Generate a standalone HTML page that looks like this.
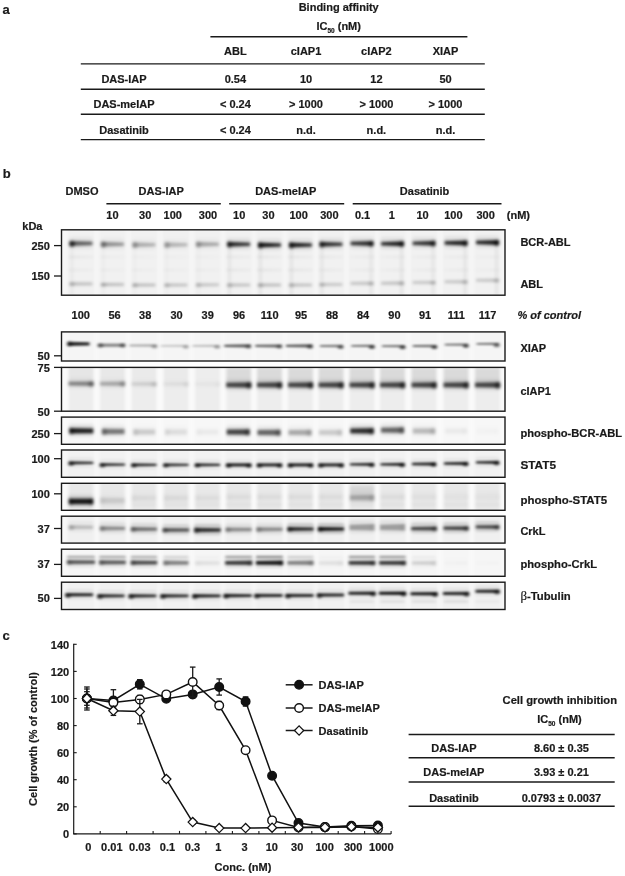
<!DOCTYPE html>
<html lang="en"><head><meta charset="utf-8"><title>Figure</title>
<style>
html,body{margin:0;padding:0;background:#fff;}
body{width:625px;height:876px;overflow:hidden;}
svg{display:block;}
svg text{font-family:"Liberation Sans", Arial, Helvetica, sans-serif;font-weight:bold;fill:#1a1a1a;stroke:#1a1a1a;stroke-width:0.2px;}
</style></head><body>
<svg width="625" height="876" viewBox="0 0 625 876">
<rect width="625" height="876" fill="#fff"/>
<text x="2.6" y="13.5" font-size="13">a</text>
<text x="338.7" y="11.0" font-size="11" text-anchor="middle">Binding affinity</text>
<text x="338.7" y="29.5" font-size="11" text-anchor="middle">IC<tspan font-size="6.5" dy="3.3">50</tspan><tspan dy="-3.3"> (nM)</tspan></text>
<line x1="210.4" y1="36.8" x2="467.4" y2="36.8" stroke="#1a1a1a" stroke-width="1.4"/>
<line x1="80.8" y1="63.9" x2="484.8" y2="63.9" stroke="#1a1a1a" stroke-width="1.4"/>
<line x1="80.8" y1="89.2" x2="484.8" y2="89.2" stroke="#1a1a1a" stroke-width="1.4"/>
<line x1="80.8" y1="114.2" x2="484.8" y2="114.2" stroke="#1a1a1a" stroke-width="1.4"/>
<line x1="80.8" y1="139.6" x2="484.8" y2="139.6" stroke="#1a1a1a" stroke-width="1.4"/>
<text x="235.4" y="55.1" font-size="11" text-anchor="middle">ABL</text>
<text x="306.0" y="55.1" font-size="11" text-anchor="middle">cIAP1</text>
<text x="376.4" y="55.1" font-size="11" text-anchor="middle">cIAP2</text>
<text x="445.5" y="55.1" font-size="11" text-anchor="middle">XIAP</text>
<text x="124.0" y="83.3" font-size="11" text-anchor="middle">DAS-IAP</text>
<text x="235.4" y="83.3" font-size="11" text-anchor="middle">0.54</text>
<text x="306.0" y="83.3" font-size="11" text-anchor="middle">10</text>
<text x="376.4" y="83.3" font-size="11" text-anchor="middle">12</text>
<text x="445.5" y="83.3" font-size="11" text-anchor="middle">50</text>
<text x="124.0" y="108.3" font-size="11" text-anchor="middle">DAS-meIAP</text>
<text x="235.4" y="108.3" font-size="11" text-anchor="middle">&lt; 0.24</text>
<text x="306.0" y="108.3" font-size="11" text-anchor="middle">&gt; 1000</text>
<text x="376.4" y="108.3" font-size="11" text-anchor="middle">&gt; 1000</text>
<text x="445.5" y="108.3" font-size="11" text-anchor="middle">&gt; 1000</text>
<text x="124.0" y="133.5" font-size="11" text-anchor="middle">Dasatinib</text>
<text x="235.4" y="133.5" font-size="11" text-anchor="middle">&lt; 0.24</text>
<text x="306.0" y="133.5" font-size="11" text-anchor="middle">n.d.</text>
<text x="376.4" y="133.5" font-size="11" text-anchor="middle">n.d.</text>
<text x="445.5" y="133.5" font-size="11" text-anchor="middle">n.d.</text>
<text x="2.8" y="177.7" font-size="13">b</text>
<text x="82.0" y="195.2" font-size="11" text-anchor="middle">DMSO</text>
<text x="161.2" y="195.2" font-size="11" text-anchor="middle">DAS-IAP</text>
<text x="285.7" y="195.2" font-size="11" text-anchor="middle">DAS-meIAP</text>
<text x="424.6" y="195.2" font-size="11" text-anchor="middle">Dasatinib</text>
<line x1="106.4" y1="203.8" x2="220.8" y2="203.8" stroke="#1a1a1a" stroke-width="1.4"/>
<line x1="229.2" y1="203.8" x2="344.2" y2="203.8" stroke="#1a1a1a" stroke-width="1.4"/>
<line x1="352.7" y1="203.8" x2="501.5" y2="203.8" stroke="#1a1a1a" stroke-width="1.4"/>
<text x="112.4" y="219.2" font-size="11" text-anchor="middle">10</text>
<text x="145.2" y="219.2" font-size="11" text-anchor="middle">30</text>
<text x="172.8" y="219.2" font-size="11" text-anchor="middle">100</text>
<text x="208.0" y="219.2" font-size="11" text-anchor="middle">300</text>
<text x="239.2" y="219.2" font-size="11" text-anchor="middle">10</text>
<text x="268.4" y="219.2" font-size="11" text-anchor="middle">30</text>
<text x="298.6" y="219.2" font-size="11" text-anchor="middle">100</text>
<text x="329.4" y="219.2" font-size="11" text-anchor="middle">300</text>
<text x="362.6" y="219.2" font-size="11" text-anchor="middle">0.1</text>
<text x="391.9" y="219.2" font-size="11" text-anchor="middle">1</text>
<text x="422.6" y="219.2" font-size="11" text-anchor="middle">10</text>
<text x="453.4" y="219.2" font-size="11" text-anchor="middle">100</text>
<text x="485.6" y="219.2" font-size="11" text-anchor="middle">300</text>
<text x="518.4" y="219.2" font-size="11" text-anchor="middle">(nM)</text>
<text x="32.4" y="229.6" font-size="11" text-anchor="middle">kDa</text>
<text x="80.8" y="319.3" font-size="11" text-anchor="middle">100</text>
<text x="114.5" y="319.3" font-size="11" text-anchor="middle">56</text>
<text x="145.2" y="319.3" font-size="11" text-anchor="middle">38</text>
<text x="176.5" y="319.3" font-size="11" text-anchor="middle">30</text>
<text x="207.7" y="319.3" font-size="11" text-anchor="middle">39</text>
<text x="239.0" y="319.3" font-size="11" text-anchor="middle">96</text>
<text x="269.7" y="319.3" font-size="11" text-anchor="middle">110</text>
<text x="301.0" y="319.3" font-size="11" text-anchor="middle">95</text>
<text x="332.0" y="319.3" font-size="11" text-anchor="middle">88</text>
<text x="363.1" y="319.3" font-size="11" text-anchor="middle">84</text>
<text x="394.4" y="319.3" font-size="11" text-anchor="middle">90</text>
<text x="425.1" y="319.3" font-size="11" text-anchor="middle">91</text>
<text x="456.4" y="319.3" font-size="11" text-anchor="middle">111</text>
<text x="487.6" y="319.3" font-size="11" text-anchor="middle">117</text>
<text x="517.4" y="319.1" font-size="11" text-anchor="start" font-style="italic">% of control</text>
<defs>
<filter id="bl" x="-20%" y="-200%" width="140%" height="500%"><feGaussianBlur stdDeviation="1.7 1.4"/></filter>
<filter id="bls" x="-20%" y="-200%" width="140%" height="500%"><feGaussianBlur stdDeviation="1.5 1.0"/></filter>
<filter id="bl2" x="-20%" y="-20%" width="140%" height="140%"><feGaussianBlur stdDeviation="1.6 1.5"/></filter>
<clipPath id="c0"><rect x="61.5" y="229.8" width="443.5" height="65.4"/></clipPath>
<clipPath id="c1"><rect x="61.5" y="331.9" width="443.5" height="29.1"/></clipPath>
<clipPath id="c2"><rect x="61.5" y="367.4" width="443.5" height="43.8"/></clipPath>
<clipPath id="c3"><rect x="61.5" y="417.1" width="443.5" height="27.2"/></clipPath>
<clipPath id="c4"><rect x="61.5" y="450.0" width="443.5" height="27.3"/></clipPath>
<clipPath id="c5"><rect x="61.5" y="483.3" width="443.5" height="27.0"/></clipPath>
<clipPath id="c6"><rect x="61.5" y="516.2" width="443.5" height="26.9"/></clipPath>
<clipPath id="c7"><rect x="61.5" y="549.2" width="443.5" height="27.1"/></clipPath>
<clipPath id="c8"><rect x="61.5" y="582.2" width="443.5" height="27.3"/></clipPath>
</defs>
<g clip-path="url(#c0)">
<rect x="61.5" y="229.8" width="443.5" height="65.4" fill="#f6f6f6"/>
<g filter="url(#bl2)">
<rect x="67.5" y="225.8" width="27" height="73.4" fill="#000" fill-opacity="0.02"/>
<rect x="99.0" y="225.8" width="27" height="73.4" fill="#000" fill-opacity="0.02"/>
<rect x="130.5" y="225.8" width="27" height="73.4" fill="#000" fill-opacity="0.02"/>
<rect x="162.5" y="225.8" width="27" height="73.4" fill="#000" fill-opacity="0.02"/>
<rect x="194.0" y="225.8" width="27" height="73.4" fill="#000" fill-opacity="0.02"/>
<rect x="225.2" y="225.8" width="27" height="73.4" fill="#000" fill-opacity="0.02"/>
<rect x="256.0" y="225.8" width="27" height="73.4" fill="#000" fill-opacity="0.02"/>
<rect x="287.0" y="225.8" width="27" height="73.4" fill="#000" fill-opacity="0.02"/>
<rect x="317.5" y="225.8" width="27" height="73.4" fill="#000" fill-opacity="0.02"/>
<rect x="348.5" y="225.8" width="27" height="73.4" fill="#000" fill-opacity="0.02"/>
<rect x="379.0" y="225.8" width="27" height="73.4" fill="#000" fill-opacity="0.02"/>
<rect x="410.5" y="225.8" width="27" height="73.4" fill="#000" fill-opacity="0.02"/>
<rect x="442.5" y="225.8" width="27" height="73.4" fill="#000" fill-opacity="0.02"/>
<rect x="474.0" y="225.8" width="27" height="73.4" fill="#000" fill-opacity="0.02"/>
</g>
<g filter="url(#bl)">
<rect x="69.1" y="236.9" width="23.8" height="12.0" rx="3" fill="#000" fill-opacity="0.050"/>
<path d="M69.6 240.90L92.4 241.85L92.4 244.95L69.6 245.90Z" fill="#000" fill-opacity="0.620"/>
<ellipse cx="72.0" cy="243.8" rx="3.0" ry="3.1" fill="#000" fill-opacity="0.620"/>
<rect x="70.8" y="243.4" width="2.4" height="51.8" fill="#000" fill-opacity="0.043"/>
<rect x="100.6" y="237.7" width="23.8" height="12.0" rx="3" fill="#000" fill-opacity="0.032"/>
<path d="M101.1 241.70L123.9 242.65L123.9 245.75L101.1 246.70Z" fill="#000" fill-opacity="0.400"/>
<ellipse cx="103.5" cy="244.6" rx="3.0" ry="3.1" fill="#000" fill-opacity="0.280"/>
<rect x="102.3" y="244.2" width="2.4" height="51.0" fill="#000" fill-opacity="0.028"/>
<rect x="132.1" y="238.3" width="23.8" height="12.0" rx="3" fill="#000" fill-opacity="0.022"/>
<path d="M132.6 242.30L155.4 243.25L155.4 246.35L132.6 247.30Z" fill="#000" fill-opacity="0.280"/>
<ellipse cx="135.0" cy="245.2" rx="3.0" ry="3.1" fill="#000" fill-opacity="0.196"/>
<rect x="133.8" y="244.8" width="2.4" height="50.4" fill="#000" fill-opacity="0.020"/>
<rect x="164.1" y="238.3" width="23.8" height="12.0" rx="3" fill="#000" fill-opacity="0.020"/>
<path d="M164.6 242.30L187.4 243.25L187.4 246.35L164.6 247.30Z" fill="#000" fill-opacity="0.250"/>
<ellipse cx="167.0" cy="245.2" rx="3.0" ry="3.1" fill="#000" fill-opacity="0.175"/>
<rect x="165.8" y="244.8" width="2.4" height="50.4" fill="#000" fill-opacity="0.018"/>
<rect x="195.6" y="237.7" width="23.8" height="12.0" rx="3" fill="#000" fill-opacity="0.025"/>
<path d="M196.1 241.70L218.9 242.65L218.9 245.75L196.1 246.70Z" fill="#000" fill-opacity="0.310"/>
<ellipse cx="198.5" cy="244.6" rx="3.0" ry="3.1" fill="#000" fill-opacity="0.155"/>
<rect x="197.3" y="244.2" width="2.4" height="51.0" fill="#000" fill-opacity="0.022"/>
<rect x="226.8" y="237.7" width="23.8" height="12.0" rx="3" fill="#000" fill-opacity="0.066"/>
<path d="M227.3 241.70L250.1 242.65L250.1 245.75L227.3 246.70Z" fill="#000" fill-opacity="0.820"/>
<ellipse cx="229.7" cy="244.6" rx="3.0" ry="3.1" fill="#000" fill-opacity="0.410"/>
<rect x="228.5" y="244.2" width="2.4" height="51.0" fill="#000" fill-opacity="0.057"/>
<rect x="257.6" y="238.5" width="23.8" height="12.0" rx="3" fill="#000" fill-opacity="0.072"/>
<path d="M258.1 242.50L280.9 243.45L280.9 246.55L258.1 247.50Z" fill="#000" fill-opacity="0.900"/>
<ellipse cx="260.5" cy="245.4" rx="3.0" ry="3.1" fill="#000" fill-opacity="0.450"/>
<rect x="259.3" y="245.0" width="2.4" height="50.2" fill="#000" fill-opacity="0.063"/>
<rect x="288.6" y="238.5" width="23.8" height="12.0" rx="3" fill="#000" fill-opacity="0.070"/>
<path d="M289.1 242.50L311.9 243.45L311.9 246.55L289.1 247.50Z" fill="#000" fill-opacity="0.880"/>
<ellipse cx="291.5" cy="245.4" rx="3.0" ry="3.1" fill="#000" fill-opacity="0.440"/>
<rect x="290.3" y="245.0" width="2.4" height="50.2" fill="#000" fill-opacity="0.062"/>
<rect x="319.1" y="237.7" width="23.8" height="12.0" rx="3" fill="#000" fill-opacity="0.066"/>
<path d="M319.6 241.70L342.4 242.65L342.4 245.75L319.6 246.70Z" fill="#000" fill-opacity="0.820"/>
<ellipse cx="322.0" cy="244.6" rx="3.0" ry="3.1" fill="#000" fill-opacity="0.410"/>
<rect x="320.8" y="244.2" width="2.4" height="51.0" fill="#000" fill-opacity="0.057"/>
<rect x="350.1" y="236.9" width="23.8" height="12.0" rx="3" fill="#000" fill-opacity="0.066"/>
<path d="M350.6 241.85L373.4 240.90L373.4 245.90L350.6 244.95Z" fill="#000" fill-opacity="0.820"/>
<ellipse cx="371.0" cy="243.8" rx="3.0" ry="3.1" fill="#000" fill-opacity="0.410"/>
<rect x="369.8" y="243.4" width="2.4" height="51.8" fill="#000" fill-opacity="0.057"/>
<rect x="380.6" y="237.2" width="23.8" height="12.0" rx="3" fill="#000" fill-opacity="0.070"/>
<path d="M381.1 242.15L403.9 241.20L403.9 246.20L381.1 245.25Z" fill="#000" fill-opacity="0.880"/>
<ellipse cx="401.5" cy="244.1" rx="3.0" ry="3.1" fill="#000" fill-opacity="0.440"/>
<rect x="400.3" y="243.7" width="2.4" height="51.5" fill="#000" fill-opacity="0.062"/>
<rect x="412.1" y="236.7" width="23.8" height="12.0" rx="3" fill="#000" fill-opacity="0.066"/>
<path d="M412.6 241.65L435.4 240.70L435.4 245.70L412.6 244.75Z" fill="#000" fill-opacity="0.820"/>
<ellipse cx="433.0" cy="243.6" rx="3.0" ry="3.1" fill="#000" fill-opacity="0.410"/>
<rect x="431.8" y="243.2" width="2.4" height="52.0" fill="#000" fill-opacity="0.057"/>
<rect x="444.1" y="236.4" width="23.8" height="12.0" rx="3" fill="#000" fill-opacity="0.070"/>
<path d="M444.6 241.35L467.4 240.40L467.4 245.40L444.6 244.45Z" fill="#000" fill-opacity="0.880"/>
<ellipse cx="465.0" cy="243.3" rx="3.0" ry="3.1" fill="#000" fill-opacity="0.440"/>
<rect x="463.8" y="242.9" width="2.4" height="52.3" fill="#000" fill-opacity="0.062"/>
<rect x="475.6" y="235.9" width="23.8" height="12.0" rx="3" fill="#000" fill-opacity="0.072"/>
<path d="M476.1 240.85L498.9 239.90L498.9 244.90L476.1 243.95Z" fill="#000" fill-opacity="0.900"/>
<ellipse cx="496.5" cy="242.8" rx="3.0" ry="3.1" fill="#000" fill-opacity="0.540"/>
<rect x="495.3" y="242.4" width="2.4" height="52.8" fill="#000" fill-opacity="0.063"/>
<path d="M69.6 282.30L92.4 282.62L92.4 285.18L69.6 285.50Z" fill="#000" fill-opacity="0.220"/>
<ellipse cx="72.0" cy="284.3" rx="3.0" ry="2.2" fill="#000" fill-opacity="0.110"/>
<path d="M101.1 282.90L123.9 283.22L123.9 285.78L101.1 286.10Z" fill="#000" fill-opacity="0.240"/>
<ellipse cx="103.5" cy="284.9" rx="3.0" ry="2.2" fill="#000" fill-opacity="0.120"/>
<path d="M132.6 283.40L155.4 283.72L155.4 286.28L132.6 286.60Z" fill="#000" fill-opacity="0.240"/>
<ellipse cx="135.0" cy="285.4" rx="3.0" ry="2.2" fill="#000" fill-opacity="0.120"/>
<path d="M164.6 283.40L187.4 283.72L187.4 286.28L164.6 286.60Z" fill="#000" fill-opacity="0.220"/>
<ellipse cx="167.0" cy="285.4" rx="3.0" ry="2.2" fill="#000" fill-opacity="0.110"/>
<path d="M196.1 283.20L218.9 283.52L218.9 286.08L196.1 286.40Z" fill="#000" fill-opacity="0.200"/>
<ellipse cx="198.5" cy="285.2" rx="3.0" ry="2.2" fill="#000" fill-opacity="0.100"/>
<path d="M227.3 283.40L250.1 283.72L250.1 286.28L227.3 286.60Z" fill="#000" fill-opacity="0.220"/>
<ellipse cx="229.7" cy="285.4" rx="3.0" ry="2.2" fill="#000" fill-opacity="0.110"/>
<path d="M258.1 283.40L280.9 283.72L280.9 286.28L258.1 286.60Z" fill="#000" fill-opacity="0.240"/>
<ellipse cx="260.5" cy="285.4" rx="3.0" ry="2.2" fill="#000" fill-opacity="0.120"/>
<path d="M289.1 283.40L311.9 283.72L311.9 286.28L289.1 286.60Z" fill="#000" fill-opacity="0.220"/>
<ellipse cx="291.5" cy="285.4" rx="3.0" ry="2.2" fill="#000" fill-opacity="0.110"/>
<path d="M319.6 282.90L342.4 283.22L342.4 285.78L319.6 286.10Z" fill="#000" fill-opacity="0.200"/>
<ellipse cx="322.0" cy="284.9" rx="3.0" ry="2.2" fill="#000" fill-opacity="0.100"/>
<path d="M350.6 282.12L373.4 281.80L373.4 285.00L350.6 284.68Z" fill="#000" fill-opacity="0.200"/>
<ellipse cx="371.0" cy="283.8" rx="3.0" ry="2.2" fill="#000" fill-opacity="0.100"/>
<path d="M381.1 281.92L403.9 281.60L403.9 284.80L381.1 284.48Z" fill="#000" fill-opacity="0.220"/>
<ellipse cx="401.5" cy="283.6" rx="3.0" ry="2.2" fill="#000" fill-opacity="0.110"/>
<path d="M412.6 281.22L435.4 280.90L435.4 284.10L412.6 283.78Z" fill="#000" fill-opacity="0.200"/>
<ellipse cx="433.0" cy="282.9" rx="3.0" ry="2.2" fill="#000" fill-opacity="0.100"/>
<path d="M444.6 280.52L467.4 280.20L467.4 283.40L444.6 283.08Z" fill="#000" fill-opacity="0.200"/>
<ellipse cx="465.0" cy="282.2" rx="3.0" ry="2.2" fill="#000" fill-opacity="0.100"/>
<path d="M476.1 279.02L498.9 278.70L498.9 281.90L476.1 281.58Z" fill="#000" fill-opacity="0.200"/>
<ellipse cx="496.5" cy="280.7" rx="3.0" ry="2.2" fill="#000" fill-opacity="0.100"/>
<path d="M68.8 256.00L93.2 256.38L93.2 257.62L68.8 258.00Z" fill="#000" fill-opacity="0.070"/>
<path d="M100.2 256.00L124.8 256.38L124.8 257.62L100.2 258.00Z" fill="#000" fill-opacity="0.040"/>
<path d="M131.8 256.00L156.2 256.38L156.2 257.62L131.8 258.00Z" fill="#000" fill-opacity="0.030"/>
<path d="M163.8 256.00L188.2 256.38L188.2 257.62L163.8 258.00Z" fill="#000" fill-opacity="0.030"/>
<path d="M195.2 256.00L219.8 256.38L219.8 257.62L195.2 258.00Z" fill="#000" fill-opacity="0.030"/>
<path d="M226.4 256.00L250.9 256.38L250.9 257.62L226.4 258.00Z" fill="#000" fill-opacity="0.060"/>
<path d="M257.2 256.00L281.8 256.38L281.8 257.62L257.2 258.00Z" fill="#000" fill-opacity="0.070"/>
<path d="M288.2 256.00L312.8 256.38L312.8 257.62L288.2 258.00Z" fill="#000" fill-opacity="0.070"/>
<path d="M318.8 256.00L343.2 256.38L343.2 257.62L318.8 258.00Z" fill="#000" fill-opacity="0.060"/>
<path d="M349.8 256.38L374.2 256.00L374.2 258.00L349.8 257.62Z" fill="#000" fill-opacity="0.050"/>
<path d="M380.2 256.38L404.8 256.00L404.8 258.00L380.2 257.62Z" fill="#000" fill-opacity="0.050"/>
<path d="M411.8 256.38L436.2 256.00L436.2 258.00L411.8 257.62Z" fill="#000" fill-opacity="0.050"/>
<path d="M443.8 256.38L468.2 256.00L468.2 258.00L443.8 257.62Z" fill="#000" fill-opacity="0.050"/>
<path d="M475.2 256.38L499.8 256.00L499.8 258.00L475.2 257.62Z" fill="#000" fill-opacity="0.040"/>
<path d="M68.8 269.00L93.2 269.38L93.2 270.62L68.8 271.00Z" fill="#000" fill-opacity="0.050"/>
<path d="M100.2 269.00L124.8 269.38L124.8 270.62L100.2 271.00Z" fill="#000" fill-opacity="0.040"/>
<path d="M131.8 269.00L156.2 269.38L156.2 270.62L131.8 271.00Z" fill="#000" fill-opacity="0.040"/>
<path d="M163.8 269.00L188.2 269.38L188.2 270.62L163.8 271.00Z" fill="#000" fill-opacity="0.040"/>
<path d="M195.2 269.00L219.8 269.38L219.8 270.62L195.2 271.00Z" fill="#000" fill-opacity="0.040"/>
<path d="M226.4 269.00L250.9 269.38L250.9 270.62L226.4 271.00Z" fill="#000" fill-opacity="0.070"/>
<path d="M257.2 269.00L281.8 269.38L281.8 270.62L257.2 271.00Z" fill="#000" fill-opacity="0.080"/>
<path d="M288.2 269.00L312.8 269.38L312.8 270.62L288.2 271.00Z" fill="#000" fill-opacity="0.080"/>
<path d="M318.8 269.00L343.2 269.38L343.2 270.62L318.8 271.00Z" fill="#000" fill-opacity="0.060"/>
<path d="M349.8 269.38L374.2 269.00L374.2 271.00L349.8 270.62Z" fill="#000" fill-opacity="0.050"/>
<path d="M380.2 269.38L404.8 269.00L404.8 271.00L380.2 270.62Z" fill="#000" fill-opacity="0.050"/>
<path d="M411.8 269.38L436.2 269.00L436.2 271.00L411.8 270.62Z" fill="#000" fill-opacity="0.050"/>
<path d="M443.8 269.38L468.2 269.00L468.2 271.00L443.8 270.62Z" fill="#000" fill-opacity="0.050"/>
<path d="M475.2 269.38L499.8 269.00L499.8 271.00L475.2 270.62Z" fill="#000" fill-opacity="0.040"/>
</g>
</g>
<rect x="61.5" y="229.8" width="443.5" height="65.4" fill="none" stroke="#1a1a1a" stroke-width="1.4"/>
<text x="520.4" y="245.8" font-size="11" text-anchor="start">BCR-ABL</text>
<text x="520.4" y="288.1" font-size="11" text-anchor="start">ABL</text>
<text x="49.8" y="249.6" font-size="11" text-anchor="end">250</text>
<line x1="54.0" y1="245.6" x2="61.5" y2="245.6" stroke="#1a1a1a" stroke-width="1.3"/>
<text x="49.8" y="280.0" font-size="11" text-anchor="end">150</text>
<line x1="54.0" y1="276.0" x2="61.5" y2="276.0" stroke="#1a1a1a" stroke-width="1.3"/>
<g clip-path="url(#c1)">
<rect x="61.5" y="331.9" width="443.5" height="29.1" fill="#f8f8f8"/>
<g filter="url(#bl2)">
<rect x="67.5" y="327.9" width="27" height="37.1" fill="#000" fill-opacity="0.012"/>
<rect x="99.0" y="327.9" width="27" height="37.1" fill="#000" fill-opacity="0.012"/>
<rect x="130.5" y="327.9" width="27" height="37.1" fill="#000" fill-opacity="0.012"/>
<rect x="162.5" y="327.9" width="27" height="37.1" fill="#000" fill-opacity="0.012"/>
<rect x="194.0" y="327.9" width="27" height="37.1" fill="#000" fill-opacity="0.012"/>
<rect x="225.2" y="327.9" width="27" height="37.1" fill="#000" fill-opacity="0.012"/>
<rect x="256.0" y="327.9" width="27" height="37.1" fill="#000" fill-opacity="0.012"/>
<rect x="287.0" y="327.9" width="27" height="37.1" fill="#000" fill-opacity="0.012"/>
<rect x="317.5" y="327.9" width="27" height="37.1" fill="#000" fill-opacity="0.012"/>
<rect x="348.5" y="327.9" width="27" height="37.1" fill="#000" fill-opacity="0.012"/>
<rect x="379.0" y="327.9" width="27" height="37.1" fill="#000" fill-opacity="0.012"/>
<rect x="410.5" y="327.9" width="27" height="37.1" fill="#000" fill-opacity="0.012"/>
<rect x="442.5" y="327.9" width="27" height="37.1" fill="#000" fill-opacity="0.012"/>
<rect x="474.0" y="327.9" width="27" height="37.1" fill="#000" fill-opacity="0.012"/>
</g>
<g filter="url(#bls)">
<path d="M67.5 341.80L89.5 342.32L89.5 345.47L67.5 346.00Z" fill="#000" fill-opacity="0.820"/>
<ellipse cx="69.9" cy="343.9" rx="3.0" ry="2.7" fill="#000" fill-opacity="0.410"/>
<path d="M98.0 343.60L125.0 343.60L125.0 346.80L98.0 346.80Z" fill="#000" fill-opacity="0.450"/>
<ellipse cx="100.4" cy="345.5" rx="3.0" ry="2.2" fill="#000" fill-opacity="0.405"/>
<ellipse cx="122.6" cy="345.5" rx="3.0" ry="2.2" fill="#000" fill-opacity="0.405"/>
<path d="M129.4 344.60L156.9 344.30L156.9 346.70L129.4 346.40Z" fill="#000" fill-opacity="0.300"/>
<ellipse cx="154.5" cy="346.7" rx="3.0" ry="1.9" fill="#000" fill-opacity="0.270"/>
<path d="M160.7 345.07L188.2 344.80L188.2 347.00L160.7 346.72Z" fill="#000" fill-opacity="0.200"/>
<ellipse cx="185.8" cy="347.1" rx="3.0" ry="1.9" fill="#000" fill-opacity="0.240"/>
<path d="M192.5 345.07L219.5 344.80L219.5 347.00L192.5 346.72Z" fill="#000" fill-opacity="0.240"/>
<ellipse cx="217.1" cy="347.1" rx="3.0" ry="1.9" fill="#000" fill-opacity="0.288"/>
<path d="M224.3 344.70L250.7 344.30L250.7 347.50L224.3 347.10Z" fill="#000" fill-opacity="0.620"/>
<ellipse cx="248.3" cy="346.7" rx="3.0" ry="2.2" fill="#000" fill-opacity="0.310"/>
<path d="M255.3 344.77L281.7 344.40L281.7 347.40L255.3 347.02Z" fill="#000" fill-opacity="0.580"/>
<ellipse cx="279.3" cy="346.7" rx="3.0" ry="2.1" fill="#000" fill-opacity="0.348"/>
<path d="M286.0 344.70L312.4 344.30L312.4 347.50L286.0 347.10Z" fill="#000" fill-opacity="0.620"/>
<ellipse cx="310.0" cy="346.7" rx="3.0" ry="2.2" fill="#000" fill-opacity="0.434"/>
<path d="M320.0 345.02L343.0 344.70L343.0 347.30L320.0 346.98Z" fill="#000" fill-opacity="0.500"/>
<ellipse cx="340.6" cy="347.2" rx="3.0" ry="1.9" fill="#000" fill-opacity="0.500"/>
<path d="M351.3 345.00L374.3 344.70L374.3 347.10L351.3 346.80Z" fill="#000" fill-opacity="0.550"/>
<ellipse cx="371.9" cy="347.2" rx="3.0" ry="1.9" fill="#000" fill-opacity="0.605"/>
<path d="M382.0 345.20L405.0 344.90L405.0 347.30L382.0 347.00Z" fill="#000" fill-opacity="0.550"/>
<ellipse cx="402.6" cy="347.4" rx="3.0" ry="1.9" fill="#000" fill-opacity="0.605"/>
<path d="M412.8 345.10L436.8 344.80L436.8 347.20L412.8 346.90Z" fill="#000" fill-opacity="0.550"/>
<ellipse cx="434.4" cy="347.3" rx="3.0" ry="1.9" fill="#000" fill-opacity="0.605"/>
<path d="M444.8 343.70L468.2 343.40L468.2 345.80L444.8 345.50Z" fill="#000" fill-opacity="0.550"/>
<ellipse cx="465.9" cy="346.1" rx="3.0" ry="1.9" fill="#000" fill-opacity="0.605"/>
<path d="M476.6 343.00L499.1 342.70L499.1 345.10L476.6 344.80Z" fill="#000" fill-opacity="0.550"/>
<ellipse cx="496.7" cy="345.4" rx="3.0" ry="1.9" fill="#000" fill-opacity="0.495"/>
</g>
</g>
<rect x="61.5" y="331.9" width="443.5" height="29.1" fill="none" stroke="#1a1a1a" stroke-width="1.4"/>
<text x="520.4" y="352.0" font-size="11" text-anchor="start">XIAP</text>
<text x="49.8" y="359.8" font-size="11" text-anchor="end">50</text>
<line x1="54.0" y1="355.8" x2="61.5" y2="355.8" stroke="#1a1a1a" stroke-width="1.3"/>
<g clip-path="url(#c2)">
<rect x="61.5" y="367.4" width="443.5" height="43.8" fill="#fafafa"/>
<g filter="url(#bl2)">
<rect x="68.5" y="363.4" width="25.0" height="51.8" fill="#000" fill-opacity="0.05"/>
<rect x="100.0" y="363.4" width="25.0" height="51.8" fill="#000" fill-opacity="0.05"/>
<rect x="131.5" y="363.4" width="25.0" height="51.8" fill="#000" fill-opacity="0.05"/>
<rect x="163.5" y="363.4" width="25.0" height="51.8" fill="#000" fill-opacity="0.05"/>
<rect x="195.0" y="363.4" width="25.0" height="51.8" fill="#000" fill-opacity="0.05"/>
<rect x="226.2" y="363.4" width="25.0" height="51.8" fill="#000" fill-opacity="0.05"/>
<rect x="257.0" y="363.4" width="25.0" height="51.8" fill="#000" fill-opacity="0.05"/>
<rect x="288.0" y="363.4" width="25.0" height="51.8" fill="#000" fill-opacity="0.05"/>
<rect x="318.5" y="363.4" width="25.0" height="51.8" fill="#000" fill-opacity="0.05"/>
<rect x="349.5" y="363.4" width="25.0" height="51.8" fill="#000" fill-opacity="0.05"/>
<rect x="380.0" y="363.4" width="25.0" height="51.8" fill="#000" fill-opacity="0.05"/>
<rect x="411.5" y="363.4" width="25.0" height="51.8" fill="#000" fill-opacity="0.05"/>
<rect x="443.5" y="363.4" width="25.0" height="51.8" fill="#000" fill-opacity="0.05"/>
<rect x="475.0" y="363.4" width="25.0" height="51.8" fill="#000" fill-opacity="0.05"/>
</g>
<g filter="url(#bl)">
<path d="M68.5 368.00L93.5 368.00L93.5 384.00L68.5 384.00Z" fill="#000" fill-opacity="0.030"/>
<path d="M100.0 368.00L125.0 368.00L125.0 384.00L100.0 384.00Z" fill="#000" fill-opacity="0.020"/>
<path d="M131.5 368.00L156.5 368.00L156.5 384.00L131.5 384.00Z" fill="#000" fill-opacity="0.010"/>
<path d="M163.5 368.00L188.5 368.00L188.5 384.00L163.5 384.00Z" fill="#000" fill-opacity="0.010"/>
<path d="M226.2 368.00L251.2 368.00L251.2 384.00L226.2 384.00Z" fill="#000" fill-opacity="0.080"/>
<path d="M257.0 368.00L282.0 368.00L282.0 384.00L257.0 384.00Z" fill="#000" fill-opacity="0.080"/>
<path d="M288.0 368.00L313.0 368.00L313.0 384.00L288.0 384.00Z" fill="#000" fill-opacity="0.080"/>
<path d="M318.5 368.00L343.5 368.00L343.5 384.00L318.5 384.00Z" fill="#000" fill-opacity="0.080"/>
<path d="M349.5 368.00L374.5 368.00L374.5 384.00L349.5 384.00Z" fill="#000" fill-opacity="0.080"/>
<path d="M380.0 368.00L405.0 368.00L405.0 384.00L380.0 384.00Z" fill="#000" fill-opacity="0.080"/>
<path d="M411.5 368.00L436.5 368.00L436.5 384.00L411.5 384.00Z" fill="#000" fill-opacity="0.080"/>
<path d="M443.5 368.00L468.5 368.00L468.5 384.00L443.5 384.00Z" fill="#000" fill-opacity="0.080"/>
<path d="M475.0 368.00L500.0 368.00L500.0 384.00L475.0 384.00Z" fill="#000" fill-opacity="0.080"/>
<rect x="68.0" y="377.4" width="26" height="11.6" rx="3" fill="#000" fill-opacity="0.036"/>
<path d="M68.5 381.86L93.5 381.40L93.5 386.00L68.5 385.54Z" fill="#000" fill-opacity="0.450"/>
<ellipse cx="91.1" cy="384.1" rx="3.0" ry="2.9" fill="#000" fill-opacity="0.270"/>
<rect x="99.5" y="377.5" width="26" height="11.4" rx="3" fill="#000" fill-opacity="0.024"/>
<path d="M100.0 381.94L125.0 381.50L125.0 385.90L100.0 385.46Z" fill="#000" fill-opacity="0.300"/>
<ellipse cx="122.6" cy="384.1" rx="3.0" ry="2.8" fill="#000" fill-opacity="0.180"/>
<rect x="131.0" y="378.0" width="26" height="11" rx="3" fill="#000" fill-opacity="0.011"/>
<path d="M131.5 382.40L156.5 382.00L156.5 386.00L131.5 385.60Z" fill="#000" fill-opacity="0.140"/>
<ellipse cx="154.1" cy="384.4" rx="3.0" ry="2.6" fill="#000" fill-opacity="0.084"/>
<rect x="163.0" y="378.0" width="26" height="11" rx="3" fill="#000" fill-opacity="0.006"/>
<path d="M163.5 382.40L188.5 382.00L188.5 386.00L163.5 385.60Z" fill="#000" fill-opacity="0.070"/>
<ellipse cx="186.1" cy="384.4" rx="3.0" ry="2.6" fill="#000" fill-opacity="0.042"/>
<rect x="194.5" y="378.0" width="26" height="11" rx="3" fill="#000" fill-opacity="0.003"/>
<path d="M195.0 382.40L220.0 382.00L220.0 386.00L195.0 385.60Z" fill="#000" fill-opacity="0.040"/>
<ellipse cx="217.6" cy="384.4" rx="3.0" ry="2.6" fill="#000" fill-opacity="0.024"/>
<rect x="225.7" y="378.2" width="26" height="12.6" rx="3" fill="#000" fill-opacity="0.058"/>
<path d="M226.2 382.76L251.2 382.20L251.2 387.80L226.2 387.24Z" fill="#000" fill-opacity="0.720"/>
<ellipse cx="248.8" cy="385.4" rx="3.0" ry="3.4" fill="#000" fill-opacity="0.432"/>
<rect x="256.5" y="378.2" width="26" height="12.6" rx="3" fill="#000" fill-opacity="0.058"/>
<path d="M257.0 382.76L282.0 382.20L282.0 387.80L257.0 387.24Z" fill="#000" fill-opacity="0.720"/>
<ellipse cx="279.6" cy="385.4" rx="3.0" ry="3.4" fill="#000" fill-opacity="0.432"/>
<rect x="287.5" y="378.2" width="26" height="12.6" rx="3" fill="#000" fill-opacity="0.058"/>
<path d="M288.0 382.76L313.0 382.20L313.0 387.80L288.0 387.24Z" fill="#000" fill-opacity="0.720"/>
<ellipse cx="310.6" cy="385.4" rx="3.0" ry="3.4" fill="#000" fill-opacity="0.432"/>
<rect x="318.0" y="378.2" width="26" height="12.6" rx="3" fill="#000" fill-opacity="0.058"/>
<path d="M318.5 382.76L343.5 382.20L343.5 387.80L318.5 387.24Z" fill="#000" fill-opacity="0.720"/>
<ellipse cx="341.1" cy="385.4" rx="3.0" ry="3.4" fill="#000" fill-opacity="0.432"/>
<rect x="349.0" y="378.2" width="26" height="12.6" rx="3" fill="#000" fill-opacity="0.058"/>
<path d="M349.5 382.76L374.5 382.20L374.5 387.80L349.5 387.24Z" fill="#000" fill-opacity="0.720"/>
<ellipse cx="372.1" cy="385.4" rx="3.0" ry="3.4" fill="#000" fill-opacity="0.432"/>
<rect x="379.5" y="378.2" width="26" height="12.6" rx="3" fill="#000" fill-opacity="0.058"/>
<path d="M380.0 382.76L405.0 382.20L405.0 387.80L380.0 387.24Z" fill="#000" fill-opacity="0.720"/>
<ellipse cx="402.6" cy="385.4" rx="3.0" ry="3.4" fill="#000" fill-opacity="0.432"/>
<rect x="411.0" y="378.2" width="26" height="12.6" rx="3" fill="#000" fill-opacity="0.058"/>
<path d="M411.5 382.76L436.5 382.20L436.5 387.80L411.5 387.24Z" fill="#000" fill-opacity="0.720"/>
<ellipse cx="434.1" cy="385.4" rx="3.0" ry="3.4" fill="#000" fill-opacity="0.432"/>
<rect x="443.0" y="378.2" width="26" height="12.6" rx="3" fill="#000" fill-opacity="0.058"/>
<path d="M443.5 382.76L468.5 382.20L468.5 387.80L443.5 387.24Z" fill="#000" fill-opacity="0.720"/>
<ellipse cx="466.1" cy="385.4" rx="3.0" ry="3.4" fill="#000" fill-opacity="0.432"/>
<rect x="474.5" y="378.2" width="26" height="12.6" rx="3" fill="#000" fill-opacity="0.058"/>
<path d="M475.0 382.76L500.0 382.20L500.0 387.80L475.0 387.24Z" fill="#000" fill-opacity="0.720"/>
<ellipse cx="497.6" cy="385.4" rx="3.0" ry="3.4" fill="#000" fill-opacity="0.432"/>
</g>
</g>
<rect x="61.5" y="367.4" width="443.5" height="43.8" fill="none" stroke="#1a1a1a" stroke-width="1.4"/>
<text x="520.4" y="395.2" font-size="11" text-anchor="start" textLength="30.4" lengthAdjust="spacingAndGlyphs">cIAP1</text>
<text x="49.8" y="371.9" font-size="11" text-anchor="end">75</text>
<line x1="54.0" y1="367.4" x2="61.5" y2="367.4" stroke="#1a1a1a" stroke-width="1.3"/>
<text x="49.8" y="415.7" font-size="11" text-anchor="end">50</text>
<line x1="54.0" y1="411.2" x2="61.5" y2="411.2" stroke="#1a1a1a" stroke-width="1.3"/>
<g clip-path="url(#c3)">
<rect x="61.5" y="417.1" width="443.5" height="27.2" fill="#fafafa"/>
<g filter="url(#bl2)">
<rect x="67.5" y="413.1" width="27" height="35.2" fill="#000" fill-opacity="0.01"/>
<rect x="99.0" y="413.1" width="27" height="35.2" fill="#000" fill-opacity="0.01"/>
<rect x="130.5" y="413.1" width="27" height="35.2" fill="#000" fill-opacity="0.01"/>
<rect x="162.5" y="413.1" width="27" height="35.2" fill="#000" fill-opacity="0.01"/>
<rect x="194.0" y="413.1" width="27" height="35.2" fill="#000" fill-opacity="0.01"/>
<rect x="225.2" y="413.1" width="27" height="35.2" fill="#000" fill-opacity="0.01"/>
<rect x="256.0" y="413.1" width="27" height="35.2" fill="#000" fill-opacity="0.01"/>
<rect x="287.0" y="413.1" width="27" height="35.2" fill="#000" fill-opacity="0.01"/>
<rect x="317.5" y="413.1" width="27" height="35.2" fill="#000" fill-opacity="0.01"/>
<rect x="348.5" y="413.1" width="27" height="35.2" fill="#000" fill-opacity="0.01"/>
<rect x="379.0" y="413.1" width="27" height="35.2" fill="#000" fill-opacity="0.01"/>
<rect x="410.5" y="413.1" width="27" height="35.2" fill="#000" fill-opacity="0.01"/>
<rect x="442.5" y="413.1" width="27" height="35.2" fill="#000" fill-opacity="0.01"/>
<rect x="474.0" y="413.1" width="27" height="35.2" fill="#000" fill-opacity="0.01"/>
</g>
<g filter="url(#bl)">
<rect x="68.8" y="424.0" width="25" height="12.6" rx="3" fill="#000" fill-opacity="0.088"/>
<path d="M69.3 428.00L93.3 428.42L93.3 433.18L69.3 433.60Z" fill="#000" fill-opacity="0.880"/>
<ellipse cx="71.7" cy="431.2" rx="3.0" ry="3.4" fill="#000" fill-opacity="0.308"/>
<rect x="101.5" y="424.7" width="23.5" height="12.6" rx="3" fill="#000" fill-opacity="0.050"/>
<path d="M102.0 428.70L124.5 429.12L124.5 433.88L102.0 434.30Z" fill="#000" fill-opacity="0.500"/>
<ellipse cx="104.4" cy="431.9" rx="3.0" ry="3.4" fill="#000" fill-opacity="0.175"/>
<rect x="132.8" y="425.2" width="23" height="12.6" rx="3" fill="#000" fill-opacity="0.017"/>
<path d="M133.3 429.20L155.3 429.62L155.3 434.38L133.3 434.80Z" fill="#000" fill-opacity="0.170"/>
<ellipse cx="135.7" cy="432.4" rx="3.0" ry="3.4" fill="#000" fill-opacity="0.059"/>
<rect x="164.5" y="425.2" width="23" height="12.6" rx="3" fill="#000" fill-opacity="0.010"/>
<path d="M165.0 429.20L187.0 429.62L187.0 434.38L165.0 434.80Z" fill="#000" fill-opacity="0.100"/>
<ellipse cx="167.4" cy="432.4" rx="3.0" ry="3.4" fill="#000" fill-opacity="0.035"/>
<rect x="196.0" y="425.2" width="23" height="12.6" rx="3" fill="#000" fill-opacity="0.005"/>
<path d="M196.5 429.20L218.5 429.62L218.5 434.38L196.5 434.80Z" fill="#000" fill-opacity="0.050"/>
<ellipse cx="198.9" cy="432.4" rx="3.0" ry="3.4" fill="#000" fill-opacity="0.017"/>
<rect x="226.2" y="425.2" width="24" height="12.6" rx="3" fill="#000" fill-opacity="0.072"/>
<path d="M226.7 429.62L249.7 429.20L249.7 434.80L226.7 434.38Z" fill="#000" fill-opacity="0.720"/>
<ellipse cx="247.3" cy="432.4" rx="3.0" ry="3.4" fill="#000" fill-opacity="0.252"/>
<rect x="257.0" y="425.7" width="24" height="12.6" rx="3" fill="#000" fill-opacity="0.058"/>
<path d="M257.5 430.12L280.5 429.70L280.5 435.30L257.5 434.88Z" fill="#000" fill-opacity="0.580"/>
<ellipse cx="278.1" cy="432.9" rx="3.0" ry="3.4" fill="#000" fill-opacity="0.203"/>
<rect x="288.0" y="425.7" width="24" height="12.6" rx="3" fill="#000" fill-opacity="0.030"/>
<path d="M288.5 430.12L311.5 429.70L311.5 435.30L288.5 434.88Z" fill="#000" fill-opacity="0.300"/>
<ellipse cx="309.1" cy="432.9" rx="3.0" ry="3.4" fill="#000" fill-opacity="0.105"/>
<rect x="318.5" y="425.7" width="24" height="12.6" rx="3" fill="#000" fill-opacity="0.017"/>
<path d="M319.0 430.12L342.0 429.70L342.0 435.30L319.0 434.88Z" fill="#000" fill-opacity="0.170"/>
<ellipse cx="339.6" cy="432.9" rx="3.0" ry="3.4" fill="#000" fill-opacity="0.059"/>
<rect x="349.8" y="424.1" width="24.5" height="12.6" rx="3" fill="#000" fill-opacity="0.082"/>
<path d="M350.2 428.52L373.8 428.10L373.8 433.70L350.2 433.28Z" fill="#000" fill-opacity="0.820"/>
<ellipse cx="371.4" cy="431.3" rx="3.0" ry="3.4" fill="#000" fill-opacity="0.287"/>
<rect x="380.5" y="423.3" width="24" height="12.6" rx="3" fill="#000" fill-opacity="0.058"/>
<path d="M381.0 427.72L404.0 427.30L404.0 432.90L381.0 432.48Z" fill="#000" fill-opacity="0.580"/>
<ellipse cx="401.6" cy="430.5" rx="3.0" ry="3.4" fill="#000" fill-opacity="0.203"/>
<rect x="412.2" y="424.2" width="23.5" height="12.6" rx="3" fill="#000" fill-opacity="0.024"/>
<path d="M412.8 428.62L435.2 428.20L435.2 433.80L412.8 433.38Z" fill="#000" fill-opacity="0.240"/>
<ellipse cx="432.9" cy="431.4" rx="3.0" ry="3.4" fill="#000" fill-opacity="0.084"/>
<rect x="444.5" y="424.2" width="23" height="12.6" rx="3" fill="#000" fill-opacity="0.005"/>
<path d="M445.0 428.62L467.0 428.20L467.0 433.80L445.0 433.38Z" fill="#000" fill-opacity="0.050"/>
<ellipse cx="464.6" cy="431.4" rx="3.0" ry="3.4" fill="#000" fill-opacity="0.017"/>
<rect x="476.0" y="424.2" width="23" height="12.6" rx="3" fill="#000" fill-opacity="0.002"/>
<path d="M476.5 428.62L498.5 428.20L498.5 433.80L476.5 433.38Z" fill="#000" fill-opacity="0.020"/>
<ellipse cx="496.1" cy="431.4" rx="3.0" ry="3.4" fill="#000" fill-opacity="0.007"/>
</g>
</g>
<rect x="61.5" y="417.1" width="443.5" height="27.2" fill="none" stroke="#1a1a1a" stroke-width="1.4"/>
<text x="520.4" y="436.9" font-size="11" text-anchor="start" textLength="101.8" lengthAdjust="spacingAndGlyphs">phospho-BCR-ABL</text>
<text x="49.8" y="437.6" font-size="11" text-anchor="end">250</text>
<line x1="54.0" y1="433.6" x2="61.5" y2="433.6" stroke="#1a1a1a" stroke-width="1.3"/>
<g clip-path="url(#c4)">
<rect x="61.5" y="450.0" width="443.5" height="27.3" fill="#f7f7f7"/>
<g filter="url(#bl2)">
<rect x="67.5" y="446.0" width="27" height="35.3" fill="#000" fill-opacity="0.018"/>
<rect x="99.0" y="446.0" width="27" height="35.3" fill="#000" fill-opacity="0.018"/>
<rect x="130.5" y="446.0" width="27" height="35.3" fill="#000" fill-opacity="0.018"/>
<rect x="162.5" y="446.0" width="27" height="35.3" fill="#000" fill-opacity="0.018"/>
<rect x="194.0" y="446.0" width="27" height="35.3" fill="#000" fill-opacity="0.018"/>
<rect x="225.2" y="446.0" width="27" height="35.3" fill="#000" fill-opacity="0.018"/>
<rect x="256.0" y="446.0" width="27" height="35.3" fill="#000" fill-opacity="0.018"/>
<rect x="287.0" y="446.0" width="27" height="35.3" fill="#000" fill-opacity="0.018"/>
<rect x="317.5" y="446.0" width="27" height="35.3" fill="#000" fill-opacity="0.018"/>
<rect x="348.5" y="446.0" width="27" height="35.3" fill="#000" fill-opacity="0.018"/>
<rect x="379.0" y="446.0" width="27" height="35.3" fill="#000" fill-opacity="0.018"/>
<rect x="410.5" y="446.0" width="27" height="35.3" fill="#000" fill-opacity="0.018"/>
<rect x="442.5" y="446.0" width="27" height="35.3" fill="#000" fill-opacity="0.018"/>
<rect x="474.0" y="446.0" width="27" height="35.3" fill="#000" fill-opacity="0.018"/>
</g>
<g filter="url(#bls)">
<rect x="68.2" y="457.2" width="25.5" height="10.3" rx="3" fill="#000" fill-opacity="0.047"/>
<path d="M68.8 461.25L93.2 461.75L93.2 464.05L68.8 464.55Z" fill="#000" fill-opacity="0.780"/>
<ellipse cx="71.2" cy="463.7" rx="3.0" ry="2.2" fill="#000" fill-opacity="0.546"/>
<rect x="99.5" y="459.0" width="26" height="10.3" rx="3" fill="#000" fill-opacity="0.044"/>
<path d="M100.0 462.95L125.0 463.45L125.0 465.75L100.0 466.25Z" fill="#000" fill-opacity="0.740"/>
<ellipse cx="102.4" cy="465.4" rx="3.0" ry="2.2" fill="#000" fill-opacity="0.518"/>
<rect x="131.0" y="459.2" width="26" height="10.3" rx="3" fill="#000" fill-opacity="0.047"/>
<path d="M131.5 463.15L156.5 463.65L156.5 465.95L131.5 466.45Z" fill="#000" fill-opacity="0.780"/>
<ellipse cx="133.9" cy="465.6" rx="3.0" ry="2.2" fill="#000" fill-opacity="0.546"/>
<rect x="163.0" y="459.2" width="26" height="10.3" rx="3" fill="#000" fill-opacity="0.044"/>
<path d="M163.5 463.15L188.5 463.65L188.5 465.95L163.5 466.45Z" fill="#000" fill-opacity="0.740"/>
<ellipse cx="165.9" cy="465.6" rx="3.0" ry="2.2" fill="#000" fill-opacity="0.518"/>
<rect x="194.5" y="459.2" width="26" height="10.3" rx="3" fill="#000" fill-opacity="0.047"/>
<path d="M195.0 463.15L220.0 463.65L220.0 465.95L195.0 466.45Z" fill="#000" fill-opacity="0.780"/>
<ellipse cx="197.4" cy="465.6" rx="3.0" ry="2.2" fill="#000" fill-opacity="0.546"/>
<rect x="225.7" y="459.2" width="26" height="10.3" rx="3" fill="#000" fill-opacity="0.048"/>
<path d="M226.2 463.25L251.2 463.25L251.2 466.55L226.2 466.55Z" fill="#000" fill-opacity="0.800"/>
<ellipse cx="228.6" cy="465.7" rx="3.0" ry="2.2" fill="#000" fill-opacity="0.560"/>
<ellipse cx="248.8" cy="465.7" rx="3.0" ry="2.2" fill="#000" fill-opacity="0.560"/>
<rect x="256.5" y="459.2" width="26" height="10.3" rx="3" fill="#000" fill-opacity="0.047"/>
<path d="M257.0 463.25L282.0 463.25L282.0 466.55L257.0 466.55Z" fill="#000" fill-opacity="0.780"/>
<ellipse cx="259.4" cy="465.7" rx="3.0" ry="2.2" fill="#000" fill-opacity="0.546"/>
<ellipse cx="279.6" cy="465.7" rx="3.0" ry="2.2" fill="#000" fill-opacity="0.546"/>
<rect x="287.5" y="459.2" width="26" height="10.3" rx="3" fill="#000" fill-opacity="0.048"/>
<path d="M288.0 463.25L313.0 463.25L313.0 466.55L288.0 466.55Z" fill="#000" fill-opacity="0.800"/>
<ellipse cx="290.4" cy="465.7" rx="3.0" ry="2.2" fill="#000" fill-opacity="0.560"/>
<ellipse cx="310.6" cy="465.7" rx="3.0" ry="2.2" fill="#000" fill-opacity="0.560"/>
<rect x="318.0" y="459.2" width="26" height="10.3" rx="3" fill="#000" fill-opacity="0.047"/>
<path d="M318.5 463.25L343.5 463.25L343.5 466.55L318.5 466.55Z" fill="#000" fill-opacity="0.780"/>
<ellipse cx="320.9" cy="465.7" rx="3.0" ry="2.2" fill="#000" fill-opacity="0.546"/>
<ellipse cx="341.1" cy="465.7" rx="3.0" ry="2.2" fill="#000" fill-opacity="0.546"/>
<rect x="349.5" y="458.8" width="25" height="10.3" rx="3" fill="#000" fill-opacity="0.047"/>
<path d="M350.0 463.25L374.0 462.75L374.0 466.05L350.0 465.55Z" fill="#000" fill-opacity="0.780"/>
<ellipse cx="371.6" cy="465.2" rx="3.0" ry="2.2" fill="#000" fill-opacity="0.546"/>
<rect x="380.0" y="458.8" width="25" height="10.3" rx="3" fill="#000" fill-opacity="0.048"/>
<path d="M380.5 463.25L404.5 462.75L404.5 466.05L380.5 465.55Z" fill="#000" fill-opacity="0.800"/>
<ellipse cx="402.1" cy="465.2" rx="3.0" ry="2.2" fill="#000" fill-opacity="0.560"/>
<rect x="411.5" y="458.4" width="25" height="10.3" rx="3" fill="#000" fill-opacity="0.048"/>
<path d="M412.0 462.85L436.0 462.35L436.0 465.65L412.0 465.15Z" fill="#000" fill-opacity="0.800"/>
<ellipse cx="433.6" cy="464.8" rx="3.0" ry="2.2" fill="#000" fill-opacity="0.560"/>
<rect x="443.5" y="457.9" width="25" height="10.3" rx="3" fill="#000" fill-opacity="0.047"/>
<path d="M444.0 462.35L468.0 461.85L468.0 465.15L444.0 464.65Z" fill="#000" fill-opacity="0.780"/>
<ellipse cx="465.6" cy="464.3" rx="3.0" ry="2.2" fill="#000" fill-opacity="0.546"/>
<rect x="475.5" y="456.8" width="24" height="10.3" rx="3" fill="#000" fill-opacity="0.048"/>
<path d="M476.0 461.25L499.0 460.75L499.0 464.05L476.0 463.55Z" fill="#000" fill-opacity="0.800"/>
<ellipse cx="496.6" cy="463.2" rx="3.0" ry="2.2" fill="#000" fill-opacity="0.560"/>
</g>
</g>
<rect x="61.5" y="450.0" width="443.5" height="27.3" fill="none" stroke="#1a1a1a" stroke-width="1.4"/>
<text x="520.4" y="469.0" font-size="11" text-anchor="start" textLength="35.6" lengthAdjust="spacingAndGlyphs">STAT5</text>
<text x="49.8" y="462.7" font-size="11" text-anchor="end">100</text>
<line x1="54.0" y1="458.7" x2="61.5" y2="458.7" stroke="#1a1a1a" stroke-width="1.3"/>
<g clip-path="url(#c5)">
<rect x="61.5" y="483.3" width="443.5" height="27.0" fill="#fafafa"/>
<g filter="url(#bl2)">
<rect x="68.5" y="479.3" width="25.0" height="35.0" fill="#000" fill-opacity="0.07"/>
<rect x="100.0" y="479.3" width="25.0" height="35.0" fill="#000" fill-opacity="0.07"/>
<rect x="131.5" y="479.3" width="25.0" height="35.0" fill="#000" fill-opacity="0.07"/>
<rect x="163.5" y="479.3" width="25.0" height="35.0" fill="#000" fill-opacity="0.07"/>
<rect x="195.0" y="479.3" width="25.0" height="35.0" fill="#000" fill-opacity="0.07"/>
<rect x="226.2" y="479.3" width="25.0" height="35.0" fill="#000" fill-opacity="0.07"/>
<rect x="257.0" y="479.3" width="25.0" height="35.0" fill="#000" fill-opacity="0.07"/>
<rect x="288.0" y="479.3" width="25.0" height="35.0" fill="#000" fill-opacity="0.07"/>
<rect x="318.5" y="479.3" width="25.0" height="35.0" fill="#000" fill-opacity="0.07"/>
<rect x="349.5" y="479.3" width="25.0" height="35.0" fill="#000" fill-opacity="0.07"/>
<rect x="380.0" y="479.3" width="25.0" height="35.0" fill="#000" fill-opacity="0.07"/>
<rect x="411.5" y="479.3" width="25.0" height="35.0" fill="#000" fill-opacity="0.07"/>
<rect x="443.5" y="479.3" width="25.0" height="35.0" fill="#000" fill-opacity="0.07"/>
<rect x="475.0" y="479.3" width="25.0" height="35.0" fill="#000" fill-opacity="0.07"/>
</g>
<g filter="url(#bl)">
<rect x="68.2" y="494.6" width="25.5" height="12.6" rx="3" fill="#000" fill-opacity="0.090"/>
<path d="M68.8 498.60L93.2 498.60L93.2 504.20L68.8 504.20Z" fill="#000" fill-opacity="0.900"/>
<ellipse cx="71.2" cy="501.8" rx="3.0" ry="3.4" fill="#000" fill-opacity="0.225"/>
<ellipse cx="90.8" cy="501.8" rx="3.0" ry="3.4" fill="#000" fill-opacity="0.225"/>
<rect x="99.8" y="493.6" width="25.5" height="12.6" rx="3" fill="#000" fill-opacity="0.013"/>
<path d="M100.2 497.60L124.8 497.88L124.8 502.92L100.2 503.20Z" fill="#000" fill-opacity="0.130"/>
<ellipse cx="102.7" cy="500.8" rx="3.0" ry="3.4" fill="#000" fill-opacity="0.033"/>
<rect x="131.2" y="491.2" width="25.5" height="12.6" rx="3" fill="#000" fill-opacity="0.006"/>
<path d="M131.8 495.20L156.2 495.48L156.2 500.52L131.8 500.80Z" fill="#000" fill-opacity="0.060"/>
<ellipse cx="134.2" cy="498.4" rx="3.0" ry="3.4" fill="#000" fill-opacity="0.015"/>
<rect x="163.2" y="491.2" width="25.5" height="12.6" rx="3" fill="#000" fill-opacity="0.006"/>
<path d="M163.8 495.20L188.2 495.48L188.2 500.52L163.8 500.80Z" fill="#000" fill-opacity="0.060"/>
<ellipse cx="166.2" cy="498.4" rx="3.0" ry="3.4" fill="#000" fill-opacity="0.015"/>
<rect x="194.8" y="491.2" width="25.5" height="12.6" rx="3" fill="#000" fill-opacity="0.005"/>
<path d="M195.2 495.20L219.8 495.48L219.8 500.52L195.2 500.80Z" fill="#000" fill-opacity="0.050"/>
<ellipse cx="197.7" cy="498.4" rx="3.0" ry="3.4" fill="#000" fill-opacity="0.013"/>
<rect x="225.9" y="490.2" width="25.5" height="12.6" rx="3" fill="#000" fill-opacity="0.005"/>
<path d="M226.4 494.20L250.9 494.48L250.9 499.52L226.4 499.80Z" fill="#000" fill-opacity="0.050"/>
<ellipse cx="228.8" cy="497.4" rx="3.0" ry="3.4" fill="#000" fill-opacity="0.013"/>
<rect x="256.8" y="490.2" width="25.5" height="12.6" rx="3" fill="#000" fill-opacity="0.005"/>
<path d="M257.2 494.20L281.8 494.48L281.8 499.52L257.2 499.80Z" fill="#000" fill-opacity="0.050"/>
<ellipse cx="259.6" cy="497.4" rx="3.0" ry="3.4" fill="#000" fill-opacity="0.013"/>
<rect x="287.8" y="490.2" width="25.5" height="12.6" rx="3" fill="#000" fill-opacity="0.005"/>
<path d="M288.2 494.20L312.8 494.48L312.8 499.52L288.2 499.80Z" fill="#000" fill-opacity="0.050"/>
<ellipse cx="290.6" cy="497.4" rx="3.0" ry="3.4" fill="#000" fill-opacity="0.013"/>
<rect x="318.2" y="490.2" width="25.5" height="12.6" rx="3" fill="#000" fill-opacity="0.005"/>
<path d="M318.8 494.20L343.2 494.48L343.2 499.52L318.8 499.80Z" fill="#000" fill-opacity="0.050"/>
<ellipse cx="321.1" cy="497.4" rx="3.0" ry="3.4" fill="#000" fill-opacity="0.013"/>
<rect x="349.2" y="491.1" width="25.5" height="12.6" rx="3" fill="#000" fill-opacity="0.026"/>
<path d="M349.8 495.38L374.2 495.10L374.2 500.70L349.8 500.42Z" fill="#000" fill-opacity="0.260"/>
<ellipse cx="371.9" cy="498.3" rx="3.0" ry="3.4" fill="#000" fill-opacity="0.065"/>
<rect x="379.8" y="490.2" width="25.5" height="12.6" rx="3" fill="#000" fill-opacity="0.005"/>
<path d="M380.2 494.48L404.8 494.20L404.8 499.80L380.2 499.52Z" fill="#000" fill-opacity="0.050"/>
<ellipse cx="402.4" cy="497.4" rx="3.0" ry="3.4" fill="#000" fill-opacity="0.013"/>
<rect x="411.2" y="490.2" width="25.5" height="12.6" rx="3" fill="#000" fill-opacity="0.004"/>
<path d="M411.8 494.48L436.2 494.20L436.2 499.80L411.8 499.52Z" fill="#000" fill-opacity="0.040"/>
<ellipse cx="433.9" cy="497.4" rx="3.0" ry="3.4" fill="#000" fill-opacity="0.010"/>
<rect x="443.2" y="490.2" width="25.5" height="12.6" rx="3" fill="#000" fill-opacity="0.003"/>
<path d="M443.8 494.48L468.2 494.20L468.2 499.80L443.8 499.52Z" fill="#000" fill-opacity="0.030"/>
<ellipse cx="465.9" cy="497.4" rx="3.0" ry="3.4" fill="#000" fill-opacity="0.007"/>
<rect x="474.8" y="490.2" width="25.5" height="12.6" rx="3" fill="#000" fill-opacity="0.003"/>
<path d="M475.2 494.48L499.8 494.20L499.8 499.80L475.2 499.52Z" fill="#000" fill-opacity="0.030"/>
<ellipse cx="497.4" cy="497.4" rx="3.0" ry="3.4" fill="#000" fill-opacity="0.007"/>
<path d="M100.2 503.25L124.8 503.25L124.8 505.75L100.2 505.75Z" fill="#000" fill-opacity="0.030"/>
<path d="M131.8 503.25L156.2 503.25L156.2 505.75L131.8 505.75Z" fill="#000" fill-opacity="0.040"/>
<path d="M163.8 503.25L188.2 503.25L188.2 505.75L163.8 505.75Z" fill="#000" fill-opacity="0.040"/>
<path d="M195.2 503.25L219.8 503.25L219.8 505.75L195.2 505.75Z" fill="#000" fill-opacity="0.040"/>
<path d="M226.4 503.25L250.9 503.25L250.9 505.75L226.4 505.75Z" fill="#000" fill-opacity="0.050"/>
<path d="M257.2 503.25L281.8 503.25L281.8 505.75L257.2 505.75Z" fill="#000" fill-opacity="0.050"/>
<path d="M288.2 503.25L312.8 503.25L312.8 505.75L288.2 505.75Z" fill="#000" fill-opacity="0.050"/>
<path d="M318.8 503.25L343.2 503.25L343.2 505.75L318.8 505.75Z" fill="#000" fill-opacity="0.050"/>
<path d="M349.8 503.25L374.2 503.25L374.2 505.75L349.8 505.75Z" fill="#000" fill-opacity="0.030"/>
<path d="M380.2 503.25L404.8 503.25L404.8 505.75L380.2 505.75Z" fill="#000" fill-opacity="0.040"/>
<path d="M411.8 503.25L436.2 503.25L436.2 505.75L411.8 505.75Z" fill="#000" fill-opacity="0.040"/>
<path d="M443.8 503.25L468.2 503.25L468.2 505.75L443.8 505.75Z" fill="#000" fill-opacity="0.040"/>
<path d="M475.2 503.25L499.8 503.25L499.8 505.75L475.2 505.75Z" fill="#000" fill-opacity="0.040"/>
<path d="M349.8 486.00L374.2 486.00L374.2 498.00L349.8 498.00Z" fill="#000" fill-opacity="0.080"/>
</g>
</g>
<rect x="61.5" y="483.3" width="443.5" height="27.0" fill="none" stroke="#1a1a1a" stroke-width="1.4"/>
<text x="520.4" y="504.4" font-size="11" text-anchor="start" textLength="86.7" lengthAdjust="spacingAndGlyphs">phospho-STAT5</text>
<text x="49.8" y="497.8" font-size="11" text-anchor="end">100</text>
<line x1="54.0" y1="493.8" x2="61.5" y2="493.8" stroke="#1a1a1a" stroke-width="1.3"/>
<g clip-path="url(#c6)">
<rect x="61.5" y="516.2" width="443.5" height="26.9" fill="#f8f8f8"/>
<g filter="url(#bl2)">
<rect x="67.5" y="512.2" width="27" height="34.9" fill="#000" fill-opacity="0.03"/>
<rect x="99.0" y="512.2" width="27" height="34.9" fill="#000" fill-opacity="0.03"/>
<rect x="130.5" y="512.2" width="27" height="34.9" fill="#000" fill-opacity="0.03"/>
<rect x="162.5" y="512.2" width="27" height="34.9" fill="#000" fill-opacity="0.03"/>
<rect x="194.0" y="512.2" width="27" height="34.9" fill="#000" fill-opacity="0.03"/>
<rect x="225.2" y="512.2" width="27" height="34.9" fill="#000" fill-opacity="0.03"/>
<rect x="256.0" y="512.2" width="27" height="34.9" fill="#000" fill-opacity="0.03"/>
<rect x="287.0" y="512.2" width="27" height="34.9" fill="#000" fill-opacity="0.03"/>
<rect x="317.5" y="512.2" width="27" height="34.9" fill="#000" fill-opacity="0.03"/>
<rect x="348.5" y="512.2" width="27" height="34.9" fill="#000" fill-opacity="0.03"/>
<rect x="379.0" y="512.2" width="27" height="34.9" fill="#000" fill-opacity="0.03"/>
<rect x="410.5" y="512.2" width="27" height="34.9" fill="#000" fill-opacity="0.03"/>
<rect x="442.5" y="512.2" width="27" height="34.9" fill="#000" fill-opacity="0.03"/>
<rect x="474.0" y="512.2" width="27" height="34.9" fill="#000" fill-opacity="0.03"/>
</g>
<g filter="url(#bls)">
<rect x="68.5" y="521.1" width="25" height="11.2" rx="3" fill="#000" fill-opacity="0.036"/>
<path d="M69.0 525.10L93.0 525.52L93.0 528.88L69.0 529.30Z" fill="#000" fill-opacity="0.180"/>
<ellipse cx="71.4" cy="527.6" rx="3.0" ry="2.7" fill="#000" fill-opacity="0.144"/>
<rect x="99.5" y="522.3" width="26" height="11.2" rx="3" fill="#000" fill-opacity="0.072"/>
<path d="M100.0 526.30L125.0 526.72L125.0 530.08L100.0 530.50Z" fill="#000" fill-opacity="0.360"/>
<ellipse cx="102.4" cy="528.8" rx="3.0" ry="2.7" fill="#000" fill-opacity="0.144"/>
<rect x="130.5" y="523.0" width="27" height="11.2" rx="3" fill="#000" fill-opacity="0.092"/>
<path d="M131.0 527.00L157.0 527.42L157.0 530.78L131.0 531.20Z" fill="#000" fill-opacity="0.460"/>
<ellipse cx="133.4" cy="529.5" rx="3.0" ry="2.7" fill="#000" fill-opacity="0.184"/>
<rect x="162.3" y="523.9" width="27.4" height="11.2" rx="3" fill="#000" fill-opacity="0.110"/>
<path d="M162.8 527.90L189.2 528.32L189.2 531.68L162.8 532.10Z" fill="#000" fill-opacity="0.550"/>
<ellipse cx="165.2" cy="530.4" rx="3.0" ry="2.7" fill="#000" fill-opacity="0.220"/>
<rect x="193.8" y="523.8" width="27.4" height="11.4" rx="3" fill="#000" fill-opacity="0.144"/>
<path d="M194.3 527.80L220.7 528.24L220.7 531.76L194.3 532.20Z" fill="#000" fill-opacity="0.720"/>
<ellipse cx="196.7" cy="530.4" rx="3.0" ry="2.8" fill="#000" fill-opacity="0.288"/>
<rect x="225.2" y="523.4" width="27" height="11.2" rx="3" fill="#000" fill-opacity="0.072"/>
<path d="M225.7 527.40L251.7 527.82L251.7 531.18L225.7 531.60Z" fill="#000" fill-opacity="0.360"/>
<ellipse cx="228.1" cy="529.9" rx="3.0" ry="2.7" fill="#000" fill-opacity="0.144"/>
<rect x="256.0" y="523.2" width="27" height="11.2" rx="3" fill="#000" fill-opacity="0.072"/>
<path d="M256.5 527.20L282.5 527.62L282.5 530.98L256.5 531.40Z" fill="#000" fill-opacity="0.360"/>
<ellipse cx="258.9" cy="529.7" rx="3.0" ry="2.7" fill="#000" fill-opacity="0.144"/>
<rect x="287.0" y="523.0" width="27" height="11.0" rx="3" fill="#000" fill-opacity="0.152"/>
<path d="M287.5 527.00L313.5 527.40L313.5 530.60L287.5 531.00Z" fill="#000" fill-opacity="0.760"/>
<ellipse cx="289.9" cy="529.4" rx="3.0" ry="2.6" fill="#000" fill-opacity="0.304"/>
<rect x="317.5" y="523.0" width="27" height="11.0" rx="3" fill="#000" fill-opacity="0.168"/>
<path d="M318.0 527.00L344.0 527.40L344.0 530.60L318.0 531.00Z" fill="#000" fill-opacity="0.840"/>
<ellipse cx="320.4" cy="529.4" rx="3.0" ry="2.6" fill="#000" fill-opacity="0.336"/>
<rect x="349.0" y="520.0" width="26" height="13.6" rx="3" fill="#000" fill-opacity="0.060"/>
<path d="M349.5 524.66L374.5 524.00L374.5 530.60L349.5 529.94Z" fill="#000" fill-opacity="0.300"/>
<ellipse cx="372.1" cy="527.7" rx="3.0" ry="3.9" fill="#000" fill-opacity="0.030"/>
<rect x="379.5" y="520.0" width="26" height="13.6" rx="3" fill="#000" fill-opacity="0.060"/>
<path d="M380.0 524.66L405.0 524.00L405.0 530.60L380.0 529.94Z" fill="#000" fill-opacity="0.300"/>
<ellipse cx="402.6" cy="527.7" rx="3.0" ry="3.9" fill="#000" fill-opacity="0.030"/>
<rect x="410.8" y="522.6" width="26.5" height="11.0" rx="3" fill="#000" fill-opacity="0.128"/>
<path d="M411.2 527.00L436.8 526.60L436.8 530.60L411.2 530.20Z" fill="#000" fill-opacity="0.640"/>
<ellipse cx="434.4" cy="529.0" rx="3.0" ry="2.6" fill="#000" fill-opacity="0.256"/>
<rect x="443.0" y="522.2" width="26" height="11.0" rx="3" fill="#000" fill-opacity="0.128"/>
<path d="M443.5 526.60L468.5 526.20L468.5 530.20L443.5 529.80Z" fill="#000" fill-opacity="0.640"/>
<ellipse cx="466.1" cy="528.6" rx="3.0" ry="2.6" fill="#000" fill-opacity="0.256"/>
<rect x="475.2" y="520.9" width="24.5" height="11.0" rx="3" fill="#000" fill-opacity="0.120"/>
<path d="M475.8 525.30L499.2 524.90L499.2 528.90L475.8 528.50Z" fill="#000" fill-opacity="0.600"/>
<ellipse cx="496.9" cy="527.3" rx="3.0" ry="2.6" fill="#000" fill-opacity="0.240"/>
</g>
</g>
<rect x="61.5" y="516.2" width="443.5" height="26.9" fill="none" stroke="#1a1a1a" stroke-width="1.4"/>
<text x="520.4" y="534.6" font-size="11" text-anchor="start">CrkL</text>
<text x="49.8" y="532.5" font-size="11" text-anchor="end">37</text>
<line x1="54.0" y1="528.5" x2="61.5" y2="528.5" stroke="#1a1a1a" stroke-width="1.3"/>
<g clip-path="url(#c7)">
<rect x="61.5" y="549.2" width="443.5" height="27.1" fill="#f9f9f9"/>
<g filter="url(#bl2)">
<rect x="67.5" y="545.2" width="27" height="35.1" fill="#000" fill-opacity="0.012"/>
<rect x="99.0" y="545.2" width="27" height="35.1" fill="#000" fill-opacity="0.012"/>
<rect x="130.5" y="545.2" width="27" height="35.1" fill="#000" fill-opacity="0.012"/>
<rect x="162.5" y="545.2" width="27" height="35.1" fill="#000" fill-opacity="0.012"/>
<rect x="194.0" y="545.2" width="27" height="35.1" fill="#000" fill-opacity="0.012"/>
<rect x="225.2" y="545.2" width="27" height="35.1" fill="#000" fill-opacity="0.012"/>
<rect x="256.0" y="545.2" width="27" height="35.1" fill="#000" fill-opacity="0.012"/>
<rect x="287.0" y="545.2" width="27" height="35.1" fill="#000" fill-opacity="0.012"/>
<rect x="317.5" y="545.2" width="27" height="35.1" fill="#000" fill-opacity="0.012"/>
<rect x="348.5" y="545.2" width="27" height="35.1" fill="#000" fill-opacity="0.012"/>
<rect x="379.0" y="545.2" width="27" height="35.1" fill="#000" fill-opacity="0.012"/>
<rect x="410.5" y="545.2" width="27" height="35.1" fill="#000" fill-opacity="0.012"/>
<rect x="442.5" y="545.2" width="27" height="35.1" fill="#000" fill-opacity="0.012"/>
<rect x="474.0" y="545.2" width="27" height="35.1" fill="#000" fill-opacity="0.012"/>
</g>
<g filter="url(#bls)">
<rect x="66.5" y="555.9" width="29" height="11.4" rx="3" fill="#000" fill-opacity="0.078"/>
<path d="M67.0 559.90L95.0 560.23L95.0 563.97L67.0 564.30Z" fill="#000" fill-opacity="0.560"/>
<ellipse cx="69.4" cy="562.5" rx="3.0" ry="2.8" fill="#000" fill-opacity="0.140"/>
<rect x="98.8" y="556.2" width="27.5" height="11.4" rx="3" fill="#000" fill-opacity="0.078"/>
<path d="M99.2 560.20L125.8 560.53L125.8 564.27L99.2 564.60Z" fill="#000" fill-opacity="0.560"/>
<ellipse cx="101.7" cy="562.8" rx="3.0" ry="2.8" fill="#000" fill-opacity="0.140"/>
<rect x="130.2" y="556.4" width="27.5" height="11.4" rx="3" fill="#000" fill-opacity="0.087"/>
<path d="M130.8 560.40L157.2 560.73L157.2 564.47L130.8 564.80Z" fill="#000" fill-opacity="0.620"/>
<ellipse cx="133.2" cy="563.0" rx="3.0" ry="2.8" fill="#000" fill-opacity="0.155"/>
<rect x="163.0" y="556.6" width="26" height="11.4" rx="3" fill="#000" fill-opacity="0.059"/>
<path d="M163.5 560.60L188.5 560.93L188.5 564.67L163.5 565.00Z" fill="#000" fill-opacity="0.420"/>
<ellipse cx="165.9" cy="563.2" rx="3.0" ry="2.8" fill="#000" fill-opacity="0.105"/>
<rect x="195.0" y="556.8" width="25" height="11.4" rx="3" fill="#000" fill-opacity="0.011"/>
<path d="M195.5 560.80L219.5 561.13L219.5 564.87L195.5 565.20Z" fill="#000" fill-opacity="0.080"/>
<ellipse cx="197.9" cy="563.4" rx="3.0" ry="2.8" fill="#000" fill-opacity="0.020"/>
<rect x="224.7" y="556.6" width="28" height="11.4" rx="3" fill="#000" fill-opacity="0.098"/>
<path d="M225.2 560.93L252.2 560.60L252.2 565.00L225.2 564.67Z" fill="#000" fill-opacity="0.700"/>
<ellipse cx="249.8" cy="563.2" rx="3.0" ry="2.8" fill="#000" fill-opacity="0.175"/>
<rect x="255.5" y="556.6" width="28" height="11.4" rx="3" fill="#000" fill-opacity="0.118"/>
<path d="M256.0 560.93L283.0 560.60L283.0 565.00L256.0 564.67Z" fill="#000" fill-opacity="0.840"/>
<ellipse cx="280.6" cy="563.2" rx="3.0" ry="2.8" fill="#000" fill-opacity="0.210"/>
<rect x="287.0" y="556.6" width="27" height="11.4" rx="3" fill="#000" fill-opacity="0.059"/>
<path d="M287.5 560.93L313.5 560.60L313.5 565.00L287.5 564.67Z" fill="#000" fill-opacity="0.420"/>
<ellipse cx="311.1" cy="563.2" rx="3.0" ry="2.8" fill="#000" fill-opacity="0.105"/>
<rect x="318.5" y="556.8" width="25" height="11.4" rx="3" fill="#000" fill-opacity="0.011"/>
<path d="M319.0 561.13L343.0 560.80L343.0 565.20L319.0 564.87Z" fill="#000" fill-opacity="0.080"/>
<ellipse cx="340.6" cy="563.4" rx="3.0" ry="2.8" fill="#000" fill-opacity="0.020"/>
<rect x="348.2" y="556.7" width="27.5" height="11.4" rx="3" fill="#000" fill-opacity="0.098"/>
<path d="M348.8 561.03L375.2 560.70L375.2 565.10L348.8 564.77Z" fill="#000" fill-opacity="0.700"/>
<ellipse cx="372.9" cy="563.3" rx="3.0" ry="2.8" fill="#000" fill-opacity="0.175"/>
<rect x="378.8" y="556.7" width="27.5" height="11.4" rx="3" fill="#000" fill-opacity="0.098"/>
<path d="M379.2 561.03L405.8 560.70L405.8 565.10L379.2 564.77Z" fill="#000" fill-opacity="0.700"/>
<ellipse cx="403.4" cy="563.3" rx="3.0" ry="2.8" fill="#000" fill-opacity="0.175"/>
<rect x="411.5" y="556.8" width="25" height="11.4" rx="3" fill="#000" fill-opacity="0.018"/>
<path d="M412.0 561.13L436.0 560.80L436.0 565.20L412.0 564.87Z" fill="#000" fill-opacity="0.130"/>
<ellipse cx="433.6" cy="563.4" rx="3.0" ry="2.8" fill="#000" fill-opacity="0.033"/>
<rect x="444.0" y="556.8" width="24" height="11.4" rx="3" fill="#000" fill-opacity="0.003"/>
<path d="M444.5 561.13L467.5 560.80L467.5 565.20L444.5 564.87Z" fill="#000" fill-opacity="0.020"/>
<ellipse cx="465.1" cy="563.4" rx="3.0" ry="2.8" fill="#000" fill-opacity="0.005"/>
<rect x="475.5" y="556.8" width="24" height="11.4" rx="3" fill="#000" fill-opacity="0.001"/>
<path d="M476.0 561.13L499.0 560.80L499.0 565.20L476.0 564.87Z" fill="#000" fill-opacity="0.010"/>
<ellipse cx="496.6" cy="563.4" rx="3.0" ry="2.8" fill="#000" fill-opacity="0.003"/>
<path d="M67.0 555.60L95.0 555.60L95.0 558.00L67.0 558.00Z" fill="#000" fill-opacity="0.240"/>
<path d="M99.2 555.60L125.8 555.60L125.8 558.00L99.2 558.00Z" fill="#000" fill-opacity="0.240"/>
<path d="M130.8 555.60L157.2 555.60L157.2 558.00L130.8 558.00Z" fill="#000" fill-opacity="0.220"/>
<path d="M163.5 555.60L188.5 555.60L188.5 558.00L163.5 558.00Z" fill="#000" fill-opacity="0.100"/>
<path d="M195.5 555.60L219.5 555.60L219.5 558.00L195.5 558.00Z" fill="#000" fill-opacity="0.020"/>
<path d="M225.2 555.60L252.2 555.60L252.2 558.00L225.2 558.00Z" fill="#000" fill-opacity="0.280"/>
<path d="M256.0 555.60L283.0 555.60L283.0 558.00L256.0 558.00Z" fill="#000" fill-opacity="0.340"/>
<path d="M287.5 555.60L313.5 555.60L313.5 558.00L287.5 558.00Z" fill="#000" fill-opacity="0.120"/>
<path d="M319.0 555.60L343.0 555.60L343.0 558.00L319.0 558.00Z" fill="#000" fill-opacity="0.020"/>
<path d="M348.8 555.60L375.2 555.60L375.2 558.00L348.8 558.00Z" fill="#000" fill-opacity="0.300"/>
<path d="M379.2 555.60L405.8 555.60L405.8 558.00L379.2 558.00Z" fill="#000" fill-opacity="0.300"/>
<path d="M412.0 555.60L436.0 555.60L436.0 558.00L412.0 558.00Z" fill="#000" fill-opacity="0.030"/>
</g>
</g>
<rect x="61.5" y="549.2" width="443.5" height="27.1" fill="none" stroke="#1a1a1a" stroke-width="1.4"/>
<text x="520.4" y="568.1" font-size="11" text-anchor="start" textLength="76.7" lengthAdjust="spacingAndGlyphs">phospho-CrkL</text>
<text x="49.8" y="568.4" font-size="11" text-anchor="end">37</text>
<line x1="54.0" y1="564.4" x2="61.5" y2="564.4" stroke="#1a1a1a" stroke-width="1.3"/>
<g clip-path="url(#c8)">
<rect x="61.5" y="582.2" width="443.5" height="27.3" fill="#f6f6f6"/>
<g filter="url(#bl2)">
<rect x="67.5" y="578.2" width="27" height="35.3" fill="#000" fill-opacity="0.018"/>
<rect x="99.0" y="578.2" width="27" height="35.3" fill="#000" fill-opacity="0.018"/>
<rect x="130.5" y="578.2" width="27" height="35.3" fill="#000" fill-opacity="0.018"/>
<rect x="162.5" y="578.2" width="27" height="35.3" fill="#000" fill-opacity="0.018"/>
<rect x="194.0" y="578.2" width="27" height="35.3" fill="#000" fill-opacity="0.018"/>
<rect x="225.2" y="578.2" width="27" height="35.3" fill="#000" fill-opacity="0.018"/>
<rect x="256.0" y="578.2" width="27" height="35.3" fill="#000" fill-opacity="0.018"/>
<rect x="287.0" y="578.2" width="27" height="35.3" fill="#000" fill-opacity="0.018"/>
<rect x="317.5" y="578.2" width="27" height="35.3" fill="#000" fill-opacity="0.018"/>
<rect x="348.5" y="578.2" width="27" height="35.3" fill="#000" fill-opacity="0.018"/>
<rect x="379.0" y="578.2" width="27" height="35.3" fill="#000" fill-opacity="0.018"/>
<rect x="410.5" y="578.2" width="27" height="35.3" fill="#000" fill-opacity="0.018"/>
<rect x="442.5" y="578.2" width="27" height="35.3" fill="#000" fill-opacity="0.018"/>
<rect x="474.0" y="578.2" width="27" height="35.3" fill="#000" fill-opacity="0.018"/>
</g>
<g filter="url(#bls)">
<rect x="65.0" y="589.0" width="28.5" height="10.6" rx="3" fill="#000" fill-opacity="0.056"/>
<path d="M65.5 593.00L93.0 593.36L93.0 596.24L65.5 596.60Z" fill="#000" fill-opacity="0.800"/>
<ellipse cx="67.9" cy="595.8" rx="3.0" ry="2.4" fill="#000" fill-opacity="0.480"/>
<rect x="97.0" y="590.1" width="28" height="10.6" rx="3" fill="#000" fill-opacity="0.053"/>
<path d="M97.5 594.10L124.5 594.46L124.5 597.34L97.5 597.70Z" fill="#000" fill-opacity="0.760"/>
<ellipse cx="99.9" cy="596.9" rx="3.0" ry="2.4" fill="#000" fill-opacity="0.456"/>
<rect x="128.2" y="590.1" width="28.6" height="10.6" rx="3" fill="#000" fill-opacity="0.053"/>
<path d="M128.7 594.10L156.3 594.46L156.3 597.34L128.7 597.70Z" fill="#000" fill-opacity="0.760"/>
<ellipse cx="131.1" cy="596.9" rx="3.0" ry="2.4" fill="#000" fill-opacity="0.456"/>
<rect x="160.0" y="590.1" width="29" height="10.6" rx="3" fill="#000" fill-opacity="0.053"/>
<path d="M160.5 594.10L188.5 594.46L188.5 597.34L160.5 597.70Z" fill="#000" fill-opacity="0.760"/>
<ellipse cx="162.9" cy="596.9" rx="3.0" ry="2.4" fill="#000" fill-opacity="0.456"/>
<rect x="192.0" y="590.1" width="29" height="10.6" rx="3" fill="#000" fill-opacity="0.056"/>
<path d="M192.5 594.10L220.5 594.46L220.5 597.34L192.5 597.70Z" fill="#000" fill-opacity="0.800"/>
<ellipse cx="194.9" cy="596.9" rx="3.0" ry="2.4" fill="#000" fill-opacity="0.480"/>
<rect x="223.2" y="589.8" width="29" height="10.6" rx="3" fill="#000" fill-opacity="0.056"/>
<path d="M223.7 593.80L251.7 594.16L251.7 597.04L223.7 597.40Z" fill="#000" fill-opacity="0.800"/>
<ellipse cx="226.1" cy="596.6" rx="3.0" ry="2.4" fill="#000" fill-opacity="0.480"/>
<rect x="254.0" y="589.7" width="29" height="10.6" rx="3" fill="#000" fill-opacity="0.055"/>
<path d="M254.5 593.70L282.5 594.06L282.5 596.94L254.5 597.30Z" fill="#000" fill-opacity="0.780"/>
<ellipse cx="256.9" cy="596.5" rx="3.0" ry="2.4" fill="#000" fill-opacity="0.468"/>
<rect x="285.0" y="589.7" width="29" height="10.6" rx="3" fill="#000" fill-opacity="0.055"/>
<path d="M285.5 593.70L313.5 594.06L313.5 596.94L285.5 597.30Z" fill="#000" fill-opacity="0.780"/>
<ellipse cx="287.9" cy="596.5" rx="3.0" ry="2.4" fill="#000" fill-opacity="0.468"/>
<rect x="316.5" y="589.2" width="28" height="10.6" rx="3" fill="#000" fill-opacity="0.055"/>
<path d="M317.0 593.20L344.0 593.56L344.0 596.44L317.0 596.80Z" fill="#000" fill-opacity="0.780"/>
<ellipse cx="319.4" cy="596.0" rx="3.0" ry="2.4" fill="#000" fill-opacity="0.468"/>
<rect x="348.0" y="587.5" width="28" height="10.6" rx="3" fill="#000" fill-opacity="0.057"/>
<path d="M348.5 591.86L375.5 591.50L375.5 595.10L348.5 594.74Z" fill="#000" fill-opacity="0.820"/>
<ellipse cx="373.1" cy="594.3" rx="3.0" ry="2.4" fill="#000" fill-opacity="0.492"/>
<rect x="378.5" y="587.5" width="28" height="10.6" rx="3" fill="#000" fill-opacity="0.062"/>
<path d="M379.0 591.86L406.0 591.50L406.0 595.10L379.0 594.74Z" fill="#000" fill-opacity="0.880"/>
<ellipse cx="403.6" cy="594.3" rx="3.0" ry="2.4" fill="#000" fill-opacity="0.528"/>
<rect x="410.0" y="588.0" width="28" height="10.6" rx="3" fill="#000" fill-opacity="0.059"/>
<path d="M410.5 592.36L437.5 592.00L437.5 595.60L410.5 595.24Z" fill="#000" fill-opacity="0.840"/>
<ellipse cx="435.1" cy="594.8" rx="3.0" ry="2.4" fill="#000" fill-opacity="0.504"/>
<rect x="442.5" y="587.7" width="27" height="10.6" rx="3" fill="#000" fill-opacity="0.056"/>
<path d="M443.0 592.06L469.0 591.70L469.0 595.30L443.0 594.94Z" fill="#000" fill-opacity="0.800"/>
<ellipse cx="466.6" cy="594.5" rx="3.0" ry="2.4" fill="#000" fill-opacity="0.480"/>
<rect x="475.0" y="585.4" width="25" height="10.6" rx="3" fill="#000" fill-opacity="0.056"/>
<path d="M475.5 589.76L499.5 589.40L499.5 593.00L475.5 592.64Z" fill="#000" fill-opacity="0.800"/>
<ellipse cx="497.1" cy="592.2" rx="3.0" ry="2.4" fill="#000" fill-opacity="0.480"/>
<path d="M350.0 600.00L374.0 600.00L374.0 603.00L350.0 603.00Z" fill="#000" fill-opacity="0.050"/>
<path d="M380.5 600.00L404.5 600.00L404.5 603.00L380.5 603.00Z" fill="#000" fill-opacity="0.070"/>
<path d="M412.0 600.00L436.0 600.00L436.0 603.00L412.0 603.00Z" fill="#000" fill-opacity="0.070"/>
<path d="M444.0 600.00L468.0 600.00L468.0 603.00L444.0 603.00Z" fill="#000" fill-opacity="0.080"/>
<path d="M475.5 600.00L499.5 600.00L499.5 603.00L475.5 603.00Z" fill="#000" fill-opacity="0.030"/>
</g>
</g>
<rect x="61.5" y="582.2" width="443.5" height="27.3" fill="none" stroke="#1a1a1a" stroke-width="1.4"/>
<text x="520.4" y="600.4" font-size="11" text-anchor="start" textLength="50.3" lengthAdjust="spacingAndGlyphs"><tspan font-family="Liberation Serif, serif" font-weight="normal" font-size="12.5">β</tspan>-Tubulin</text>
<text x="49.8" y="602.4" font-size="11" text-anchor="end">50</text>
<line x1="54.0" y1="598.4" x2="61.5" y2="598.4" stroke="#1a1a1a" stroke-width="1.3"/>
<text x="2.6" y="640.1" font-size="13">c</text>
<line x1="73.7" y1="643.8" x2="73.7" y2="833.9" stroke="#1a1a1a" stroke-width="1.2"/>
<line x1="73.1" y1="833.9" x2="391.1" y2="833.9" stroke="#1a1a1a" stroke-width="1.2"/>
<line x1="73.7" y1="833.9" x2="76.7" y2="833.9" stroke="#1a1a1a" stroke-width="1.1"/>
<text transform="translate(69.2,838.1) scale(1,1)" font-size="11" text-anchor="end">0</text>
<line x1="73.7" y1="806.8" x2="76.7" y2="806.8" stroke="#1a1a1a" stroke-width="1.1"/>
<text transform="translate(69.2,811.1) scale(1,1)" font-size="11" text-anchor="end">20</text>
<line x1="73.7" y1="779.7" x2="76.7" y2="779.7" stroke="#1a1a1a" stroke-width="1.1"/>
<text transform="translate(69.2,784.0) scale(1,1)" font-size="11" text-anchor="end">40</text>
<line x1="73.7" y1="752.7" x2="76.7" y2="752.7" stroke="#1a1a1a" stroke-width="1.1"/>
<text transform="translate(69.2,756.9) scale(1,1)" font-size="11" text-anchor="end">60</text>
<line x1="73.7" y1="725.6" x2="76.7" y2="725.6" stroke="#1a1a1a" stroke-width="1.1"/>
<text transform="translate(69.2,729.8) scale(1,1)" font-size="11" text-anchor="end">80</text>
<line x1="73.7" y1="698.5" x2="76.7" y2="698.5" stroke="#1a1a1a" stroke-width="1.1"/>
<text transform="translate(69.2,702.7) scale(1,1)" font-size="11" text-anchor="end">100</text>
<line x1="73.7" y1="671.4" x2="76.7" y2="671.4" stroke="#1a1a1a" stroke-width="1.1"/>
<text transform="translate(69.2,675.7) scale(1,1)" font-size="11" text-anchor="end">120</text>
<line x1="73.7" y1="644.3" x2="76.7" y2="644.3" stroke="#1a1a1a" stroke-width="1.1"/>
<text transform="translate(69.2,648.6) scale(1,1)" font-size="11" text-anchor="end">140</text>
<line x1="100.2" y1="833.9" x2="100.2" y2="830.9" stroke="#1a1a1a" stroke-width="1.1"/>
<line x1="126.6" y1="833.9" x2="126.6" y2="830.9" stroke="#1a1a1a" stroke-width="1.1"/>
<line x1="153.1" y1="833.9" x2="153.1" y2="830.9" stroke="#1a1a1a" stroke-width="1.1"/>
<line x1="179.5" y1="833.9" x2="179.5" y2="830.9" stroke="#1a1a1a" stroke-width="1.1"/>
<line x1="205.9" y1="833.9" x2="205.9" y2="830.9" stroke="#1a1a1a" stroke-width="1.1"/>
<line x1="232.4" y1="833.9" x2="232.4" y2="830.9" stroke="#1a1a1a" stroke-width="1.1"/>
<line x1="258.9" y1="833.9" x2="258.9" y2="830.9" stroke="#1a1a1a" stroke-width="1.1"/>
<line x1="285.3" y1="833.9" x2="285.3" y2="830.9" stroke="#1a1a1a" stroke-width="1.1"/>
<line x1="311.8" y1="833.9" x2="311.8" y2="830.9" stroke="#1a1a1a" stroke-width="1.1"/>
<line x1="338.2" y1="833.9" x2="338.2" y2="830.9" stroke="#1a1a1a" stroke-width="1.1"/>
<line x1="364.6" y1="833.9" x2="364.6" y2="830.9" stroke="#1a1a1a" stroke-width="1.1"/>
<line x1="391.1" y1="833.9" x2="391.1" y2="830.9" stroke="#1a1a1a" stroke-width="1.1"/>
<text transform="translate(88.2,851.3) scale(1,1)" font-size="11" text-anchor="middle">0</text>
<text transform="translate(111.8,851.3) scale(1,1)" font-size="11" text-anchor="middle">0.01</text>
<text transform="translate(139.8,851.3) scale(1,1)" font-size="11" text-anchor="middle">0.03</text>
<text transform="translate(167.4,851.3) scale(1,1)" font-size="11" text-anchor="middle">0.1</text>
<text transform="translate(192.5,851.3) scale(1,1)" font-size="11" text-anchor="middle">0.3</text>
<text transform="translate(218.4,851.3) scale(1,1)" font-size="11" text-anchor="middle">1</text>
<text transform="translate(244.5,851.3) scale(1,1)" font-size="11" text-anchor="middle">3</text>
<text transform="translate(271.8,851.3) scale(1,1)" font-size="11" text-anchor="middle">10</text>
<text transform="translate(297.2,851.3) scale(1,1)" font-size="11" text-anchor="middle">30</text>
<text transform="translate(324.6,851.3) scale(1,1)" font-size="11" text-anchor="middle">100</text>
<text transform="translate(353.1,851.3) scale(1,1)" font-size="11" text-anchor="middle">300</text>
<text transform="translate(381.3,851.3) scale(1,1)" font-size="11" text-anchor="middle">1000</text>
<text transform="translate(243.0,870.9) scale(1,1)" font-size="11" text-anchor="middle">Conc. (nM)</text>
<text transform="translate(37.4,739) rotate(-90)" font-size="11" text-anchor="middle">Cell growth (% of control)</text>
<line x1="86.9" y1="687.0" x2="86.9" y2="710.0" stroke="#1a1a1a" stroke-width="1.3"/>
<line x1="84.1" y1="687.0" x2="89.7" y2="687.0" stroke="#1a1a1a" stroke-width="1.3"/>
<line x1="84.1" y1="710.0" x2="89.7" y2="710.0" stroke="#1a1a1a" stroke-width="1.3"/>
<line x1="113.4" y1="689.7" x2="113.4" y2="711.4" stroke="#1a1a1a" stroke-width="1.3"/>
<line x1="110.6" y1="689.7" x2="116.2" y2="689.7" stroke="#1a1a1a" stroke-width="1.3"/>
<line x1="110.6" y1="711.4" x2="116.2" y2="711.4" stroke="#1a1a1a" stroke-width="1.3"/>
<line x1="139.8" y1="679.7" x2="139.8" y2="688.9" stroke="#1a1a1a" stroke-width="1.3"/>
<line x1="137.0" y1="679.7" x2="142.6" y2="679.7" stroke="#1a1a1a" stroke-width="1.3"/>
<line x1="137.0" y1="688.9" x2="142.6" y2="688.9" stroke="#1a1a1a" stroke-width="1.3"/>
<line x1="166.3" y1="696.1" x2="166.3" y2="701.5" stroke="#1a1a1a" stroke-width="1.3"/>
<line x1="163.5" y1="696.1" x2="169.1" y2="696.1" stroke="#1a1a1a" stroke-width="1.3"/>
<line x1="163.5" y1="701.5" x2="169.1" y2="701.5" stroke="#1a1a1a" stroke-width="1.3"/>
<line x1="192.7" y1="691.1" x2="192.7" y2="697.8" stroke="#1a1a1a" stroke-width="1.3"/>
<line x1="189.9" y1="691.1" x2="195.5" y2="691.1" stroke="#1a1a1a" stroke-width="1.3"/>
<line x1="189.9" y1="697.8" x2="195.5" y2="697.8" stroke="#1a1a1a" stroke-width="1.3"/>
<line x1="219.2" y1="678.9" x2="219.2" y2="695.1" stroke="#1a1a1a" stroke-width="1.3"/>
<line x1="216.4" y1="678.9" x2="222.0" y2="678.9" stroke="#1a1a1a" stroke-width="1.3"/>
<line x1="216.4" y1="695.1" x2="222.0" y2="695.1" stroke="#1a1a1a" stroke-width="1.3"/>
<line x1="245.6" y1="696.9" x2="245.6" y2="706.1" stroke="#1a1a1a" stroke-width="1.3"/>
<line x1="242.8" y1="696.9" x2="248.4" y2="696.9" stroke="#1a1a1a" stroke-width="1.3"/>
<line x1="242.8" y1="706.1" x2="248.4" y2="706.1" stroke="#1a1a1a" stroke-width="1.3"/>
<line x1="272.1" y1="773.0" x2="272.1" y2="778.4" stroke="#1a1a1a" stroke-width="1.3"/>
<line x1="269.3" y1="773.0" x2="274.9" y2="773.0" stroke="#1a1a1a" stroke-width="1.3"/>
<line x1="269.3" y1="778.4" x2="274.9" y2="778.4" stroke="#1a1a1a" stroke-width="1.3"/>
<polyline points="86.9,698.5 113.4,700.5 139.8,684.3 166.3,698.8 192.7,694.4 219.2,687.0 245.6,701.5 272.1,775.7 298.5,823.1 325.0,827.1 351.4,825.8 377.9,825.5" fill="none" stroke="#111" stroke-width="1.5"/>
<circle cx="86.9" cy="698.5" r="4.3" fill="#111" stroke="#111" stroke-width="1.4"/>
<circle cx="113.4" cy="700.5" r="4.3" fill="#111" stroke="#111" stroke-width="1.4"/>
<circle cx="139.8" cy="684.3" r="4.3" fill="#111" stroke="#111" stroke-width="1.4"/>
<circle cx="166.3" cy="698.8" r="4.3" fill="#111" stroke="#111" stroke-width="1.4"/>
<circle cx="192.7" cy="694.4" r="4.3" fill="#111" stroke="#111" stroke-width="1.4"/>
<circle cx="219.2" cy="687.0" r="4.3" fill="#111" stroke="#111" stroke-width="1.4"/>
<circle cx="245.6" cy="701.5" r="4.3" fill="#111" stroke="#111" stroke-width="1.4"/>
<circle cx="272.1" cy="775.7" r="4.3" fill="#111" stroke="#111" stroke-width="1.4"/>
<circle cx="298.5" cy="823.1" r="4.3" fill="#111" stroke="#111" stroke-width="1.4"/>
<circle cx="325.0" cy="827.1" r="4.3" fill="#111" stroke="#111" stroke-width="1.4"/>
<circle cx="351.4" cy="825.8" r="4.3" fill="#111" stroke="#111" stroke-width="1.4"/>
<circle cx="377.9" cy="825.5" r="4.3" fill="#111" stroke="#111" stroke-width="1.4"/>
<line x1="86.9" y1="691.7" x2="86.9" y2="705.3" stroke="#1a1a1a" stroke-width="1.3"/>
<line x1="84.1" y1="691.7" x2="89.7" y2="691.7" stroke="#1a1a1a" stroke-width="1.3"/>
<line x1="84.1" y1="705.3" x2="89.7" y2="705.3" stroke="#1a1a1a" stroke-width="1.3"/>
<line x1="113.4" y1="697.1" x2="113.4" y2="708.0" stroke="#1a1a1a" stroke-width="1.3"/>
<line x1="110.6" y1="697.1" x2="116.2" y2="697.1" stroke="#1a1a1a" stroke-width="1.3"/>
<line x1="110.6" y1="708.0" x2="116.2" y2="708.0" stroke="#1a1a1a" stroke-width="1.3"/>
<line x1="139.8" y1="695.4" x2="139.8" y2="703.5" stroke="#1a1a1a" stroke-width="1.3"/>
<line x1="137.0" y1="695.4" x2="142.6" y2="695.4" stroke="#1a1a1a" stroke-width="1.3"/>
<line x1="137.0" y1="703.5" x2="142.6" y2="703.5" stroke="#1a1a1a" stroke-width="1.3"/>
<line x1="166.3" y1="691.7" x2="166.3" y2="697.1" stroke="#1a1a1a" stroke-width="1.3"/>
<line x1="163.5" y1="691.7" x2="169.1" y2="691.7" stroke="#1a1a1a" stroke-width="1.3"/>
<line x1="163.5" y1="697.1" x2="169.1" y2="697.1" stroke="#1a1a1a" stroke-width="1.3"/>
<line x1="192.7" y1="667.1" x2="192.7" y2="696.9" stroke="#1a1a1a" stroke-width="1.3"/>
<line x1="189.9" y1="667.1" x2="195.5" y2="667.1" stroke="#1a1a1a" stroke-width="1.3"/>
<line x1="189.9" y1="696.9" x2="195.5" y2="696.9" stroke="#1a1a1a" stroke-width="1.3"/>
<line x1="219.2" y1="701.5" x2="219.2" y2="709.6" stroke="#1a1a1a" stroke-width="1.3"/>
<line x1="216.4" y1="701.5" x2="222.0" y2="701.5" stroke="#1a1a1a" stroke-width="1.3"/>
<line x1="216.4" y1="709.6" x2="222.0" y2="709.6" stroke="#1a1a1a" stroke-width="1.3"/>
<line x1="245.6" y1="747.5" x2="245.6" y2="752.9" stroke="#1a1a1a" stroke-width="1.3"/>
<line x1="242.8" y1="747.5" x2="248.4" y2="747.5" stroke="#1a1a1a" stroke-width="1.3"/>
<line x1="242.8" y1="752.9" x2="248.4" y2="752.9" stroke="#1a1a1a" stroke-width="1.3"/>
<line x1="272.1" y1="818.3" x2="272.1" y2="822.4" stroke="#1a1a1a" stroke-width="1.3"/>
<line x1="269.3" y1="818.3" x2="274.9" y2="818.3" stroke="#1a1a1a" stroke-width="1.3"/>
<line x1="269.3" y1="822.4" x2="274.9" y2="822.4" stroke="#1a1a1a" stroke-width="1.3"/>
<polyline points="86.9,698.5 113.4,702.6 139.8,699.4 166.3,694.4 192.7,682.0 219.2,705.5 245.6,750.2 272.1,820.4 298.5,827.5 325.0,827.1 351.4,826.5 377.9,828.9" fill="none" stroke="#111" stroke-width="1.5"/>
<circle cx="86.9" cy="698.5" r="4.3" fill="#fff" stroke="#111" stroke-width="1.4"/>
<circle cx="113.4" cy="702.6" r="4.3" fill="#fff" stroke="#111" stroke-width="1.4"/>
<circle cx="139.8" cy="699.4" r="4.3" fill="#fff" stroke="#111" stroke-width="1.4"/>
<circle cx="166.3" cy="694.4" r="4.3" fill="#fff" stroke="#111" stroke-width="1.4"/>
<circle cx="192.7" cy="682.0" r="4.3" fill="#fff" stroke="#111" stroke-width="1.4"/>
<circle cx="219.2" cy="705.5" r="4.3" fill="#fff" stroke="#111" stroke-width="1.4"/>
<circle cx="245.6" cy="750.2" r="4.3" fill="#fff" stroke="#111" stroke-width="1.4"/>
<circle cx="272.1" cy="820.4" r="4.3" fill="#fff" stroke="#111" stroke-width="1.4"/>
<circle cx="298.5" cy="827.5" r="4.3" fill="#fff" stroke="#111" stroke-width="1.4"/>
<circle cx="325.0" cy="827.1" r="4.3" fill="#fff" stroke="#111" stroke-width="1.4"/>
<circle cx="351.4" cy="826.5" r="4.3" fill="#fff" stroke="#111" stroke-width="1.4"/>
<circle cx="377.9" cy="828.9" r="4.3" fill="#fff" stroke="#111" stroke-width="1.4"/>
<line x1="86.9" y1="689.0" x2="86.9" y2="708.0" stroke="#1a1a1a" stroke-width="1.3"/>
<line x1="84.1" y1="689.0" x2="89.7" y2="689.0" stroke="#1a1a1a" stroke-width="1.3"/>
<line x1="84.1" y1="708.0" x2="89.7" y2="708.0" stroke="#1a1a1a" stroke-width="1.3"/>
<line x1="113.4" y1="706.2" x2="113.4" y2="715.4" stroke="#1a1a1a" stroke-width="1.3"/>
<line x1="110.6" y1="706.2" x2="116.2" y2="706.2" stroke="#1a1a1a" stroke-width="1.3"/>
<line x1="110.6" y1="715.4" x2="116.2" y2="715.4" stroke="#1a1a1a" stroke-width="1.3"/>
<line x1="139.8" y1="699.4" x2="139.8" y2="723.8" stroke="#1a1a1a" stroke-width="1.3"/>
<line x1="137.0" y1="699.4" x2="142.6" y2="699.4" stroke="#1a1a1a" stroke-width="1.3"/>
<line x1="137.0" y1="723.8" x2="142.6" y2="723.8" stroke="#1a1a1a" stroke-width="1.3"/>
<line x1="166.3" y1="776.4" x2="166.3" y2="781.8" stroke="#1a1a1a" stroke-width="1.3"/>
<line x1="163.5" y1="776.4" x2="169.1" y2="776.4" stroke="#1a1a1a" stroke-width="1.3"/>
<line x1="163.5" y1="781.8" x2="169.1" y2="781.8" stroke="#1a1a1a" stroke-width="1.3"/>
<line x1="192.7" y1="820.1" x2="192.7" y2="824.2" stroke="#1a1a1a" stroke-width="1.3"/>
<line x1="189.9" y1="820.1" x2="195.5" y2="820.1" stroke="#1a1a1a" stroke-width="1.3"/>
<line x1="189.9" y1="824.2" x2="195.5" y2="824.2" stroke="#1a1a1a" stroke-width="1.3"/>
<polyline points="86.9,698.5 113.4,710.8 139.8,711.6 166.3,779.1 192.7,822.1 219.2,828.1 245.6,828.1 272.1,827.7 298.5,827.4 325.0,827.4 351.4,826.7 377.9,827.4" fill="none" stroke="#111" stroke-width="1.5"/>
<path d="M82.3 698.5L86.9 693.9L91.5 698.5L86.9 703.1Z" fill="#fff" stroke="#111" stroke-width="1.25"/>
<path d="M108.8 710.8L113.4 706.2L118.0 710.8L113.4 715.4Z" fill="#fff" stroke="#111" stroke-width="1.25"/>
<path d="M135.2 711.6L139.8 707.0L144.4 711.6L139.8 716.2Z" fill="#fff" stroke="#111" stroke-width="1.25"/>
<path d="M161.7 779.1L166.3 774.5L170.9 779.1L166.3 783.7Z" fill="#fff" stroke="#111" stroke-width="1.25"/>
<path d="M188.1 822.1L192.7 817.5L197.3 822.1L192.7 826.7Z" fill="#fff" stroke="#111" stroke-width="1.25"/>
<path d="M214.6 828.1L219.2 823.5L223.8 828.1L219.2 832.7Z" fill="#fff" stroke="#111" stroke-width="1.25"/>
<path d="M241.0 828.1L245.6 823.5L250.2 828.1L245.6 832.7Z" fill="#fff" stroke="#111" stroke-width="1.25"/>
<path d="M267.5 827.7L272.1 823.1L276.7 827.7L272.1 832.3Z" fill="#fff" stroke="#111" stroke-width="1.25"/>
<path d="M293.9 827.4L298.5 822.8L303.1 827.4L298.5 832.0Z" fill="#fff" stroke="#111" stroke-width="1.25"/>
<path d="M320.4 827.4L325.0 822.8L329.6 827.4L325.0 832.0Z" fill="#fff" stroke="#111" stroke-width="1.25"/>
<path d="M346.8 826.7L351.4 822.1L356.0 826.7L351.4 831.3Z" fill="#fff" stroke="#111" stroke-width="1.25"/>
<path d="M373.3 827.4L377.9 822.8L382.5 827.4L377.9 832.0Z" fill="#fff" stroke="#111" stroke-width="1.25"/>
<line x1="285.7" y1="684.8" x2="312.6" y2="684.8" stroke="#1a1a1a" stroke-width="1.5"/>
<circle cx="299.1" cy="684.8" r="4.3" fill="#111" stroke="#111" stroke-width="1.4"/>
<text x="318.6" y="689.0" font-size="11" text-anchor="start">DAS-IAP</text>
<line x1="285.7" y1="708.0" x2="312.6" y2="708.0" stroke="#1a1a1a" stroke-width="1.5"/>
<circle cx="299.1" cy="708.0" r="4.3" fill="#fff" stroke="#111" stroke-width="1.4"/>
<text x="318.6" y="712.2" font-size="11" text-anchor="start">DAS-meIAP</text>
<line x1="285.7" y1="730.5" x2="312.6" y2="730.5" stroke="#1a1a1a" stroke-width="1.5"/>
<path d="M294.5 730.5L299.1 725.9L303.7 730.5L299.1 735.1Z" fill="#fff" stroke="#111" stroke-width="1.25"/>
<text x="318.6" y="734.7" font-size="11" text-anchor="start">Dasatinib</text>
<text x="559.8" y="703.9" font-size="11" text-anchor="middle" textLength="114.5" lengthAdjust="spacingAndGlyphs">Cell growth inhibition</text>
<text x="559.5" y="722.6" font-size="11" text-anchor="middle">IC<tspan font-size="6.5" dy="3.3">50</tspan><tspan dy="-3.3"> (nM)</tspan></text>
<line x1="408.6" y1="734.5" x2="614.7" y2="734.5" stroke="#1a1a1a" stroke-width="1.4"/>
<line x1="408.6" y1="757.8" x2="614.7" y2="757.8" stroke="#1a1a1a" stroke-width="1.4"/>
<line x1="408.6" y1="782.0" x2="614.7" y2="782.0" stroke="#1a1a1a" stroke-width="1.4"/>
<line x1="408.6" y1="806.2" x2="614.7" y2="806.2" stroke="#1a1a1a" stroke-width="1.4"/>
<text x="453.9" y="752.2" font-size="11" text-anchor="middle">DAS-IAP</text>
<text x="561.4" y="752.2" font-size="11" text-anchor="middle">8.60 ± 0.35</text>
<text x="453.9" y="775.5" font-size="11" text-anchor="middle">DAS-meIAP</text>
<text x="561.4" y="775.5" font-size="11" text-anchor="middle">3.93 ± 0.21</text>
<text x="453.9" y="802.1" font-size="11" text-anchor="middle">Dasatinib</text>
<text x="561.4" y="802.1" font-size="11" text-anchor="middle">0.0793 ± 0.0037</text>
</svg>
</body></html>
